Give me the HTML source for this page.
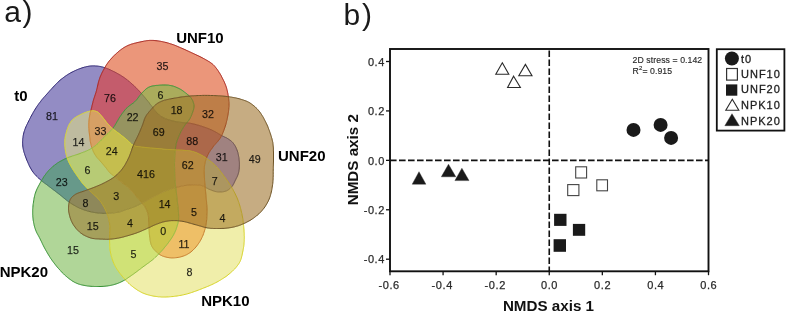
<!DOCTYPE html>
<html><head><meta charset="utf-8"><style>
html,body{margin:0;padding:0;background:#fff;}
body{width:787px;height:312px;overflow:hidden;}
svg{display:block;will-change:transform;}
text{font-family:"Liberation Sans",sans-serif;}
.n{font-size:10.7px;fill:#000;fill-opacity:0.82;text-anchor:middle;stroke:#000;stroke-opacity:0.6;stroke-width:0.25px;}
.L{font-size:15px;font-weight:bold;fill:#000;}
.t{font-size:11px;fill:#2a2a2a;letter-spacing:0.6px;stroke:#2a2a2a;stroke-width:0.25px;}
.s{font-size:8.7px;fill:#2a2a2a;letter-spacing:0.08px;stroke:#2a2a2a;stroke-width:0.15px;}
.g{font-size:11px;fill:#1e1e1e;letter-spacing:1px;stroke:#1e1e1e;stroke-width:0.3px;}
.ax{font-size:15.2px;font-weight:bold;fill:#111;}
.p{font-size:30px;fill:#1a1a1a;letter-spacing:1.7px;}
</style></head><body>
<svg width="787" height="312" viewBox="0 0 787 312">
<text x="4.2" y="21.7" class="p">a)</text>
<text x="343.5" y="25" class="p">b)</text>
<path d="M67.1,157.9 L66.5,155.6 L66.0,153.6 L65.2,149.2 L64.8,145.1 L64.8,140.8 L65.1,137.8 L66.0,133.6 L67.0,130.0 L68.3,126.3 L69.1,124.6 L69.7,123.5 L71.2,121.3 L72.2,120.2 L73.3,119.2 L75.2,117.6 L76.9,116.6 L79.4,115.2 L83.2,113.4 L85.3,112.5 L87.5,111.8 L88.8,111.4 L90.7,111.0 L93.5,100.0 L95.7,93.1 L96.5,90.6 L98.3,82.8 L99.3,79.5 L100.2,76.8 L101.6,73.6 L103.2,70.5 L104.7,67.7 L102.1,66.9 L99.5,66.4 L97.5,66.1 L94.8,65.9 L91.9,65.9 L89.6,66.1 L87.3,66.5 L85.3,67.0 L83.1,67.6 L79.8,68.7 L76.5,70.0 L74.3,71.0 L70.9,72.7 L68.7,74.0 L65.5,76.1 L63.3,77.7 L61.2,79.3 L58.9,81.3 L56.6,83.5 L54.4,85.8 L44.6,96.7 L42.1,99.5 L39.8,102.5 L36.8,106.7 L35.3,109.0 L33.2,112.5 L31.2,116.1 L28.8,120.9 L27.0,124.5 L25.9,126.9 L24.5,130.6 L23.8,133.0 L23.1,136.3 L22.7,139.5 L22.6,142.8 L22.8,146.0 L23.3,149.3 L24.1,152.5 L25.6,156.9 L27.8,162.4 L29.9,166.9 L31.7,170.1 L33.6,172.8 L35.7,175.2 L37.8,177.4 L41.5,180.7 L44.0,176.5 L46.5,173.1 L49.1,170.2 L51.8,167.5 L54.6,165.2 L57.8,162.9 L60.0,161.5 L62.2,160.3 L64.5,159.1Z" fill="#938cc4" stroke="#938cc4" stroke-width="0.6"/>
<path d="M228.0,94.5 L227.0,89.8 L225.9,85.9 L224.3,82.0 L221.7,76.8 L220.2,74.1 L219.0,72.2 L216.5,68.5 L214.2,65.7 L213.2,64.7 L212.0,63.7 L210.6,62.7 L208.4,61.3 L201.9,57.6 L197.2,55.3 L184.9,49.6 L177.3,46.3 L173.6,44.8 L168.6,43.2 L166.0,42.5 L163.4,41.9 L158.8,41.0 L154.2,40.5 L150.4,40.4 L147.6,40.6 L145.7,40.9 L142.9,41.4 L135.3,43.1 L131.5,44.1 L129.7,44.8 L127.9,45.5 L124.8,47.1 L121.9,49.0 L118.2,51.9 L114.9,54.8 L111.8,58.0 L109.1,61.1 L107.1,63.9 L104.7,67.7 L106.6,68.4 L109.1,69.4 L115.0,72.2 L119.8,74.9 L122.1,76.3 L124.7,78.0 L128.4,80.9 L132.1,84.0 L137.7,89.5 L141.5,93.5 L144.4,90.5 L145.9,89.1 L147.6,87.9 L149.6,86.9 L152.0,86.1 L155.6,85.5 L161.2,85.1 L165.0,85.0 L168.7,85.2 L171.3,85.7 L174.2,86.5 L177.7,87.9 L180.2,89.1 L182.5,90.6 L185.2,92.6 L187.8,94.7 L189.4,96.1 L194.6,95.7 L199.8,95.5 L204.3,95.4 L210.5,95.5 L216.1,95.7 L220.7,95.9 L225.1,96.3 L228.4,96.7Z" fill="#eb967a" stroke="#eb967a" stroke-width="0.6"/>
<path d="M245.3,222.9 L248.2,221.4 L250.1,220.4 L253.7,218.0 L256.4,216.0 L258.1,214.5 L259.7,213.0 L261.3,211.4 L262.7,209.7 L264.1,208.0 L265.4,206.1 L266.6,204.1 L267.7,202.1 L268.7,200.1 L270.0,196.8 L271.0,193.2 L271.8,189.6 L272.6,184.6 L273.0,180.3 L273.2,175.9 L273.5,157.0 L273.4,149.1 L273.2,146.1 L273.0,144.2 L272.8,142.4 L272.2,139.9 L271.0,135.7 L268.9,129.6 L267.9,126.8 L266.7,124.1 L263.8,118.4 L261.5,114.5 L259.7,111.8 L258.3,110.2 L257.0,108.7 L255.5,107.3 L254.0,105.9 L251.6,104.1 L249.2,102.5 L247.6,101.7 L246.0,101.0 L242.6,99.8 L238.1,98.5 L234.3,97.7 L228.4,96.7 L228.9,101.6 L229.0,105.7 L228.7,109.8 L227.9,115.1 L226.8,120.5 L225.3,126.0 L223.3,131.8 L221.6,135.6 L226.1,137.7 L227.5,138.5 L230.2,140.3 L231.5,141.3 L232.3,142.1 L234.0,144.1 L235.5,146.6 L236.7,149.3 L237.3,150.9 L237.9,152.7 L238.3,154.6 L238.9,157.6 L239.1,159.6 L239.4,162.5 L239.4,165.3 L239.3,167.2 L239.1,169.9 L238.8,171.7 L238.4,173.2 L238.0,174.5 L236.7,177.6 L233.4,184.3 L232.3,186.0 L231.4,187.1 L234.3,192.1 L236.2,196.0 L237.9,200.1 L239.2,203.7 L240.6,208.6 L241.8,213.5 L242.7,218.3 L243.4,223.8Z" fill="#c6ac82" stroke="#c6ac82" stroke-width="0.6"/>
<path d="M125.2,279.7 L127.9,282.5 L129.7,284.2 L133.3,287.2 L135.9,289.0 L137.6,290.2 L139.4,291.2 L141.2,292.2 L143.1,293.1 L145.2,293.9 L147.3,294.6 L149.5,295.2 L151.7,295.7 L155.1,296.3 L157.3,296.6 L160.5,296.9 L162.7,297.0 L165.9,297.0 L169.3,296.8 L173.2,296.5 L177.1,296.0 L179.8,295.5 L185.1,294.4 L190.4,292.9 L197.0,290.6 L206.4,286.9 L210.5,285.2 L213.1,284.0 L217.0,282.0 L221.6,279.3 L226.0,276.5 L229.0,274.1 L232.7,270.8 L234.5,269.1 L236.1,267.3 L238.3,264.4 L239.5,262.5 L240.0,261.6 L241.1,258.8 L241.9,255.8 L243.2,249.2 L243.7,246.7 L244.0,244.1 L244.2,239.5 L244.2,235.4 L244.0,230.1 L243.4,223.8 L239.5,225.3 L235.6,226.5 L231.7,227.4 L228.8,227.9 L226.9,228.1 L224.0,228.4 L221.1,228.5 L213.4,228.5 L209.5,228.2 L207.0,227.8 L205.4,227.5 L204.0,232.2 L202.5,236.3 L200.6,240.2 L199.2,242.6 L196.8,245.9 L194.0,249.1 L192.0,251.0 L191.0,251.9 L188.8,253.4 L187.7,254.1 L185.5,255.2 L184.3,255.7 L181.9,256.5 L178.1,257.4 L175.7,257.7 L173.3,257.9 L171.3,257.9 L169.2,257.7 L167.2,257.4 L165.3,256.9 L163.4,256.3 L161.7,255.6 L160.3,254.9 L158.8,253.9 L155.0,257.6 L152.8,259.6 L151.1,260.9 L143.1,266.8 L134.3,273.4 L128.2,277.7Z" fill="#f0eeaa" stroke="#f0eeaa" stroke-width="0.6"/>
<path d="M41.5,180.7 L38.1,186.8 L37.1,188.8 L36.2,190.9 L35.4,193.1 L34.4,196.8 L33.9,199.5 L33.5,202.1 L33.1,204.7 L32.8,208.5 L32.7,210.5 L32.7,213.5 L32.8,216.3 L33.1,219.1 L33.5,221.7 L34.0,224.3 L35.1,228.4 L36.2,231.4 L37.2,233.5 L39.8,238.3 L44.1,247.1 L46.0,250.6 L49.1,255.8 L51.9,260.0 L55.4,264.7 L59.2,269.2 L62.5,272.9 L65.4,275.6 L69.1,278.7 L71.4,280.3 L73.0,281.4 L75.5,282.7 L77.1,283.4 L78.8,284.1 L82.2,285.0 L85.8,285.7 L88.8,286.1 L91.0,286.3 L96.7,286.5 L100.0,286.5 L103.0,286.4 L107.8,285.9 L110.6,285.4 L112.4,285.0 L115.1,284.2 L116.8,283.7 L119.4,282.7 L121.1,281.9 L122.9,281.0 L125.2,279.7 L123.6,277.9 L121.3,275.1 L119.1,272.2 L117.7,270.3 L116.4,268.3 L115.3,266.3 L114.2,264.2 L113.3,262.1 L112.5,259.9 L111.4,256.5 L110.9,254.3 L110.2,251.0 L109.9,249.1 L109.7,246.5 L109.6,239.2 L106.4,239.3 L103.2,239.2 L95.4,238.8 L92.3,238.4 L89.9,237.7 L88.2,237.1 L86.4,236.3 L84.6,235.4 L82.9,234.5 L80.5,232.8 L79.0,231.5 L77.6,230.1 L76.2,228.6 L75.0,227.0 L73.3,224.6 L72.4,223.0 L71.6,221.4 L70.9,219.7 L70.0,217.2 L69.4,214.8 L68.8,212.2 L68.5,209.9 L68.5,208.2 L68.6,206.3 L68.8,204.3 L69.3,202.2 L65.8,199.6 L60.7,195.4 L57.8,193.1 L46.5,184.5 L43.1,182.0Z" fill="#b0d698" stroke="#b0d698" stroke-width="0.6"/>
<path d="M141.5,93.5 L137.3,89.1 L132.1,84.0 L127.9,80.5 L124.1,77.6 L119.8,74.9 L115.0,72.2 L109.1,69.4 L106.6,68.4 L104.7,67.7 L103.2,70.5 L101.6,73.6 L100.2,76.8 L99.3,79.5 L98.3,82.8 L96.5,90.6 L95.7,93.1 L93.5,100.0 L90.7,111.0 L92.8,110.7 L93.6,110.8 L94.7,110.9 L95.7,111.2 L96.7,111.6 L97.7,112.1 L98.6,112.8 L99.7,113.8 L101.9,116.4 L106.2,121.9 L107.8,123.8 L110.5,126.8 L112.6,128.7 L114.3,126.3 L120.2,116.5 L122.1,113.7 L124.1,111.0 L125.8,109.0 L127.6,107.2 L128.9,106.1 L133.8,102.6 L135.8,100.7 L137.0,99.3Z" fill="#c45c6c" stroke="#c45c6c" stroke-width="0.6"/>
<path d="M92.0,148.1 L90.8,143.8 L90.2,140.7 L89.2,132.1 L88.8,126.4 L88.9,122.4 L89.2,118.8 L89.9,114.6 L90.7,111.0 L88.3,111.5 L85.7,112.3 L82.7,113.5 L79.4,115.2 L76.4,116.8 L74.4,118.2 L72.5,119.8 L70.9,121.7 L69.7,123.5 L68.6,125.7 L67.4,128.8 L66.4,132.1 L65.5,135.8 L65.0,138.5 L64.8,140.8 L64.8,144.0 L65.0,147.4 L65.5,151.0 L66.3,155.0 L67.1,157.9 L70.0,156.9 L79.0,153.9 L85.9,151.2 L88.2,150.2 L90.6,148.9Z" fill="#bebb9f" stroke="#bebb9f" stroke-width="0.6"/>
<path d="M43.1,182.0 L46.5,184.5 L57.2,192.7 L60.7,195.4 L66.6,200.2 L69.3,202.2 L69.9,200.2 L70.5,199.0 L71.1,198.1 L71.8,197.2 L72.6,196.5 L73.5,195.7 L74.9,194.7 L76.8,193.6 L78.5,192.9 L84.7,190.8 L88.4,189.5 L85.1,186.2 L82.4,183.1 L79.9,179.7 L74.9,172.6 L72.5,168.8 L69.9,164.3 L68.4,161.2 L67.1,157.9 L64.5,159.1 L62.2,160.3 L60.0,161.5 L57.8,162.9 L55.6,164.4 L54.0,165.6 L51.8,167.5 L50.2,169.0 L47.5,171.9 L45.5,174.5 L43.6,177.2 L41.5,180.7Z" fill="#67998a" stroke="#67998a" stroke-width="0.6"/>
<path d="M231.4,187.1 L232.7,185.5 L233.7,183.7 L236.7,177.6 L237.8,175.1 L238.6,172.5 L238.9,170.8 L239.2,169.1 L239.3,167.2 L239.4,164.4 L239.3,161.6 L239.1,159.6 L238.5,155.6 L237.6,151.8 L237.0,150.0 L236.4,148.6 L235.5,146.6 L234.7,145.3 L233.5,143.5 L232.7,142.5 L231.9,141.7 L230.7,140.6 L228.0,138.8 L226.1,137.7 L221.6,135.6 L220.3,138.0 L219.3,139.5 L218.2,140.8 L214.2,145.3 L210.1,150.9 L208.8,153.0 L208.0,154.5 L207.0,156.6 L206.4,158.2 L209.5,160.5 L212.4,162.8 L215.0,165.3 L217.5,167.8 L220.6,171.6 L225.5,178.2 L229.0,183.2Z" fill="#a08280" stroke="#a08280" stroke-width="0.6"/>
<path d="M189.4,96.1 L184.6,92.2 L182.5,90.6 L180.2,89.1 L177.7,87.9 L174.9,86.7 L172.0,85.8 L170.5,85.5 L168.7,85.2 L165.9,85.0 L162.1,85.0 L156.6,85.4 L152.9,85.9 L150.3,86.6 L148.2,87.5 L146.5,88.6 L144.4,90.5 L141.5,93.5 L144.5,97.1 L148.0,101.4 L152.7,107.7 L155.2,105.2 L156.3,104.2 L157.4,103.4 L158.4,102.8 L160.0,102.0 L161.7,101.2 L163.8,100.4 L167.0,99.6 L177.6,97.6 L183.5,96.7Z" fill="#aaac5c" stroke="#aaac5c" stroke-width="0.6"/>
<path d="M222.5,133.7 L224.3,128.9 L226.0,123.8 L227.3,118.3 L228.2,113.2 L228.8,109.0 L229.0,104.8 L228.8,100.8 L228.4,96.7 L225.1,96.3 L220.7,95.9 L216.1,95.7 L210.5,95.5 L204.3,95.4 L199.8,95.5 L194.6,95.7 L189.4,96.1 L190.7,97.5 L191.5,98.5 L192.5,100.2 L193.0,101.5 L193.6,103.4 L193.9,104.7 L194.0,106.0 L193.9,107.3 L193.7,108.7 L193.2,110.7 L192.0,114.0 L191.1,116.1 L190.1,118.1 L189.0,120.0 L188.0,121.4 L186.7,122.9 L190.3,123.3 L195.0,124.3 L199.6,125.6 L205.3,127.5 L210.1,129.4 L213.7,131.0 L215.8,132.1 L221.6,135.6Z" fill="#be7e48" stroke="#be7e48" stroke-width="0.6"/>
<path d="M158.8,253.9 L160.3,254.9 L161.7,255.6 L163.4,256.3 L165.3,256.9 L167.2,257.4 L169.2,257.7 L172.3,257.9 L174.5,257.8 L176.9,257.6 L180.6,256.9 L183.1,256.1 L184.3,255.7 L186.6,254.7 L187.7,254.1 L188.8,253.4 L191.0,251.9 L192.0,251.0 L194.0,249.1 L196.8,245.9 L199.2,242.6 L200.6,240.2 L202.5,236.3 L204.0,232.2 L205.4,227.5 L186.6,222.2 L183.0,221.4 L181.0,221.1 L178.4,220.8 L177.7,224.1 L176.3,228.6 L174.8,232.3 L173.9,234.1 L172.9,236.0 L170.8,239.2 L167.0,244.4 L163.2,249.1Z" fill="#eebf67" stroke="#eebf67" stroke-width="0.6"/>
<path d="M109.6,239.2 L109.7,246.5 L109.9,249.1 L110.2,251.0 L110.9,254.3 L111.4,256.5 L112.5,259.9 L113.3,262.1 L114.2,264.2 L115.3,266.3 L116.4,268.3 L117.7,270.3 L119.1,272.2 L121.3,275.1 L123.6,277.9 L125.2,279.7 L128.2,277.7 L134.3,273.4 L143.1,266.8 L151.1,260.9 L152.8,259.6 L155.0,257.6 L158.8,253.9 L156.5,252.0 L155.0,250.5 L153.8,249.2 L152.9,248.0 L152.2,246.8 L151.5,245.5 L151.1,244.4 L150.7,243.2 L150.3,241.2 L149.6,236.1 L149.3,233.4 L149.0,227.6 L142.6,230.5 L139.3,231.9 L136.1,233.1 L132.0,234.4 L124.8,236.5 L120.0,237.7 L114.4,238.7Z" fill="#d0e276" stroke="#d0e276" stroke-width="0.6"/>
<path d="M68.5,209.3 L68.8,212.2 L69.8,216.4 L70.9,219.7 L71.6,221.4 L72.4,223.0 L73.3,224.6 L74.4,226.2 L76.2,228.6 L77.6,230.1 L79.0,231.5 L81.3,233.4 L83.7,235.0 L86.4,236.3 L88.2,237.1 L89.9,237.7 L92.3,238.4 L95.4,238.8 L103.2,239.2 L106.4,239.3 L109.6,239.2 L109.8,229.1 L109.8,226.4 L109.6,224.0 L109.2,221.5 L108.8,219.3 L108.0,216.4 L106.9,213.3 L104.2,213.3 L100.5,213.2 L95.7,212.7 L91.1,211.9 L86.8,210.7 L82.5,209.3 L78.5,207.6 L74.6,205.5 L71.7,203.8 L69.3,202.2 L68.9,203.5 L68.6,205.7 L68.5,207.6Z" fill="#a5a05c" stroke="#a5a05c" stroke-width="0.6"/>
<path d="M207.0,227.8 L210.3,228.3 L214.1,228.5 L222.0,228.4 L226.9,228.1 L228.8,227.9 L231.7,227.4 L235.6,226.5 L239.5,225.3 L243.4,223.8 L242.7,218.3 L241.8,213.5 L240.6,208.6 L239.2,203.7 L237.9,200.1 L236.2,196.0 L234.3,192.1 L231.4,187.1 L230.3,188.2 L229.0,189.3 L227.6,190.3 L226.5,190.8 L224.7,191.4 L223.3,191.7 L221.8,191.9 L219.5,191.9 L218.0,191.9 L216.6,191.7 L215.1,191.4 L213.6,190.9 L211.4,190.1 L208.2,188.8 L205.2,187.0 L206.8,205.1 L207.0,209.0 L206.9,215.4 L206.7,219.7 L206.1,223.9 L205.4,227.5Z" fill="#c3aa60" stroke="#c3aa60" stroke-width="0.6"/>
<path d="M112.6,128.7 L110.2,126.4 L107.8,123.8 L106.2,121.9 L101.9,116.4 L99.7,113.8 L98.6,112.8 L97.7,112.1 L96.7,111.6 L95.7,111.2 L94.7,110.9 L93.6,110.8 L92.8,110.7 L90.7,111.0 L89.7,115.3 L89.1,119.5 L88.8,123.1 L88.8,127.3 L89.3,133.0 L90.2,140.7 L90.6,143.1 L91.0,144.6 L92.0,148.1 L95.0,146.0 L96.2,145.0 L97.8,143.5 L106.7,134.6 L111.2,130.3Z" fill="#d6a064" stroke="#d6a064" stroke-width="0.6"/>
<path d="M152.7,107.7 L147.5,100.7 L144.5,97.1 L141.5,93.5 L137.0,99.3 L135.1,101.4 L133.1,103.1 L129.6,105.6 L127.6,107.2 L125.8,109.0 L124.1,111.0 L122.1,113.7 L120.2,116.5 L114.3,126.3 L112.6,128.7 L114.6,130.3 L119.0,133.5 L124.4,137.8 L127.6,140.4 L131.2,143.9 L132.3,144.8 L133.3,145.4 L134.7,142.4 L137.9,135.9 L139.8,131.7 L142.5,125.0 L144.4,119.3 L145.3,117.3 L146.3,115.5 L147.8,113.4 L149.5,111.3Z" fill="#969460" stroke="#969460" stroke-width="0.6"/>
<path d="M114.7,176.6 L111.6,174.4 L109.8,172.6 L107.9,170.3 L103.0,164.2 L98.1,158.7 L96.7,157.1 L95.5,155.4 L94.2,153.1 L93.1,150.8 L92.0,148.1 L88.9,149.9 L86.7,150.9 L84.3,151.9 L79.0,153.9 L70.0,156.9 L67.1,157.9 L68.4,161.2 L69.9,164.3 L72.5,168.8 L74.9,172.6 L79.9,179.7 L82.4,183.1 L85.1,186.2 L88.4,189.5 L92.7,187.9 L96.6,186.3 L100.6,184.6 L103.8,183.1 L107.9,181.0 L111.1,179.1 L112.7,178.1Z" fill="#b7cb75" stroke="#b7cb75" stroke-width="0.6"/>
<path d="M206.4,158.2 L207.7,155.2 L208.4,153.8 L209.2,152.3 L210.6,150.2 L214.2,145.3 L218.2,140.8 L219.3,139.5 L220.3,138.0 L221.6,135.6 L215.8,132.1 L213.7,131.0 L210.1,129.4 L205.3,127.5 L199.6,125.6 L195.0,124.3 L190.3,123.3 L186.7,122.9 L185.3,124.5 L184.6,125.5 L182.4,129.1 L180.3,133.0 L178.4,137.3 L177.0,140.9 L176.2,143.7 L175.7,146.3 L175.3,149.9 L183.9,150.3 L189.4,150.8 L192.1,151.3 L193.5,151.7 L195.3,152.3 L199.1,154.0 L202.9,156.0Z" fill="#ac684a" stroke="#ac684a" stroke-width="0.6"/>
<path d="M205.2,187.0 L207.7,188.5 L208.7,189.0 L212.1,190.4 L214.3,191.2 L215.8,191.6 L217.3,191.8 L220.3,191.9 L222.5,191.8 L224.0,191.6 L225.4,191.2 L226.5,190.8 L227.6,190.3 L229.0,189.3 L230.3,188.2 L231.4,187.1 L229.0,183.2 L226.1,179.0 L221.4,172.5 L218.3,168.7 L215.9,166.1 L213.3,163.6 L209.5,160.5 L206.4,158.2 L205.3,161.5 L204.7,164.5 L204.4,167.4 L204.2,171.2 L204.2,174.0 L204.3,176.1Z" fill="#ac9660" stroke="#ac9660" stroke-width="0.6"/>
<path d="M72.6,204.4 L76.5,206.6 L80.5,208.5 L84.6,210.1 L88.9,211.3 L93.3,212.3 L96.9,212.8 L101.8,213.2 L106.9,213.3 L105.6,210.3 L104.0,207.0 L101.9,203.6 L99.5,200.3 L97.9,198.4 L96.7,197.2 L91.6,192.6 L88.4,189.5 L84.7,190.8 L79.4,192.6 L76.8,193.6 L75.4,194.4 L74.4,195.1 L73.0,196.1 L72.2,196.8 L71.1,198.1 L70.5,199.0 L69.9,200.2 L69.3,202.2Z" fill="#8e885a" stroke="#8e885a" stroke-width="0.6"/>
<path d="M186.7,122.9 L188.3,120.9 L189.0,120.0 L190.1,118.1 L191.1,116.1 L192.0,114.0 L193.2,110.7 L193.7,108.7 L193.9,107.3 L194.0,106.0 L193.9,104.7 L193.6,103.4 L193.0,101.5 L192.5,100.2 L191.5,98.5 L190.7,97.5 L189.4,96.1 L183.5,96.7 L177.6,97.6 L167.6,99.5 L164.4,100.2 L162.7,100.8 L160.6,101.7 L157.9,103.1 L156.9,103.8 L155.8,104.7 L154.1,106.3 L152.7,107.7 L156.2,112.1 L158.0,114.0 L159.6,115.3 L161.3,116.5 L163.8,117.9 L165.6,118.8 L168.3,119.7 L171.0,120.5 L174.7,121.4 L178.1,122.0 L181.7,122.5Z" fill="#a48c3e" stroke="#a48c3e" stroke-width="0.6"/>
<path d="M178.4,220.8 L181.0,221.1 L183.0,221.4 L186.6,222.2 L205.4,227.5 L206.1,223.9 L206.7,219.7 L206.9,215.4 L207.0,209.0 L206.8,205.1 L205.2,187.0 L204.0,186.4 L203.0,186.0 L200.4,185.3 L198.8,185.0 L197.1,184.8 L193.8,184.8 L188.9,185.0 L184.1,185.6 L180.0,186.5 L175.8,187.6 L178.2,209.2 L178.6,215.9 L178.6,218.4Z" fill="#be9140" stroke="#be9140" stroke-width="0.6"/>
<path d="M149.0,227.6 L149.3,233.4 L149.6,236.1 L150.3,241.2 L150.7,243.2 L151.1,244.4 L151.5,245.5 L152.2,246.8 L152.9,248.0 L153.8,249.2 L155.0,250.5 L156.5,252.0 L158.8,253.9 L162.7,249.7 L166.5,245.1 L170.4,239.9 L171.7,237.9 L172.9,236.0 L173.9,234.1 L174.8,232.3 L176.3,228.6 L177.7,224.1 L178.4,220.8 L174.4,220.6 L170.6,220.7 L167.3,221.1 L164.1,221.7 L160.7,222.7 L156.1,224.4 L152.1,226.1Z" fill="#ccc64c" stroke="#ccc64c" stroke-width="0.6"/>
<path d="M112.0,239.0 L116.0,238.5 L120.8,237.6 L124.8,236.5 L131.2,234.7 L135.3,233.4 L139.3,231.9 L142.6,230.5 L149.0,227.6 L148.5,217.2 L148.3,215.4 L147.8,213.2 L146.9,210.7 L146.4,209.5 L145.5,207.8 L144.8,206.6 L144.1,205.5 L142.0,203.1 L137.4,205.4 L134.2,206.8 L131.6,207.8 L120.1,211.7 L117.3,212.3 L113.7,212.9 L110.7,213.2 L106.9,213.3 L108.0,216.4 L108.8,219.3 L109.2,221.5 L109.6,224.0 L109.8,226.4 L109.8,229.1 L109.6,239.2Z" fill="#b2a446" stroke="#b2a446" stroke-width="0.6"/>
<path d="M132.9,145.2 L131.2,143.9 L127.6,140.4 L125.0,138.3 L119.0,133.5 L114.6,130.3 L112.6,128.7 L110.7,130.8 L106.7,134.6 L97.0,144.2 L95.0,146.0 L92.0,148.1 L93.1,150.8 L94.2,153.1 L95.5,155.4 L96.7,157.1 L98.1,158.7 L103.0,164.2 L107.9,170.3 L109.8,172.6 L111.6,174.4 L114.7,176.6 L117.7,173.9 L119.7,171.9 L121.0,170.5 L122.2,169.0 L123.4,167.3 L125.7,163.6 L128.2,158.8 L129.2,156.8 L130.0,154.6 L132.3,148.1 L133.3,145.4Z" fill="#c5be4e" stroke="#c5be4e" stroke-width="0.6"/>
<path d="M175.3,149.9 L175.8,145.6 L176.4,143.0 L177.3,140.2 L178.7,136.6 L180.7,132.2 L182.8,128.3 L185.0,125.0 L186.7,122.9 L180.8,122.4 L175.3,121.5 L172.3,120.8 L169.0,119.9 L166.9,119.3 L165.0,118.5 L163.1,117.6 L161.3,116.5 L159.6,115.3 L158.0,114.0 L156.2,112.1 L152.7,107.7 L149.5,111.3 L147.8,113.4 L146.3,115.5 L145.3,117.3 L144.4,119.3 L142.5,125.0 L139.8,131.7 L137.9,135.9 L134.7,142.4 L133.3,145.4 L135.0,146.1 L137.6,146.6 L147.1,147.7 L170.0,149.6Z" fill="#9a7d39" stroke="#9a7d39" stroke-width="0.6"/>
<path d="M175.8,187.6 L180.0,186.5 L184.1,185.6 L188.9,185.0 L193.8,184.8 L197.1,184.8 L198.8,185.0 L200.4,185.3 L203.0,186.0 L204.0,186.4 L205.2,187.0 L204.3,175.1 L204.2,172.0 L204.3,168.9 L204.5,165.9 L204.9,163.7 L205.5,160.8 L206.4,158.2 L202.9,156.0 L199.1,154.0 L196.2,152.7 L194.4,152.0 L192.8,151.5 L190.0,150.9 L185.0,150.4 L181.5,150.1 L175.3,149.9 L174.9,153.9 L174.7,158.5 L174.5,162.5 L174.6,167.5 L174.7,174.2 L174.9,179.2 L175.3,183.0Z" fill="#b88c42" stroke="#b88c42" stroke-width="0.6"/>
<path d="M109.7,213.2 L112.7,213.0 L115.6,212.6 L118.2,212.2 L120.6,211.6 L125.0,210.0 L131.6,207.8 L134.2,206.8 L137.4,205.4 L142.0,203.1 L140.0,200.8 L134.1,193.7 L132.0,191.4 L129.4,188.7 L125.6,185.3 L114.7,176.6 L112.7,178.1 L110.3,179.6 L107.1,181.4 L103.0,183.5 L99.8,185.0 L95.0,187.0 L88.4,189.5 L91.6,192.6 L96.7,197.2 L97.9,198.4 L99.5,200.3 L101.9,203.6 L104.0,207.0 L105.6,210.3 L106.9,213.3Z" fill="#a49642" stroke="#a49642" stroke-width="0.6"/>
<path d="M142.0,203.1 L144.1,205.5 L144.8,206.6 L145.5,207.8 L146.4,209.5 L146.9,210.7 L147.8,213.2 L148.3,215.4 L148.5,217.2 L149.0,227.6 L154.1,225.2 L156.8,224.1 L160.7,222.7 L164.1,221.7 L167.3,221.1 L170.6,220.7 L174.4,220.6 L178.4,220.8 L178.6,219.2 L178.7,216.8 L178.6,214.2 L178.2,209.2 L175.8,187.6 L171.2,188.9 L167.3,190.2 L163.5,191.7 L160.8,192.9 L157.4,194.6 L152.4,197.2 L145.7,201.1Z" fill="#ac9834" stroke="#ac9834" stroke-width="0.6"/>
<path d="M145.0,201.5 L153.2,196.8 L158.2,194.2 L161.7,192.5 L164.4,191.3 L168.3,189.9 L172.1,188.6 L175.8,187.6 L175.2,182.3 L174.9,179.2 L174.7,174.2 L174.6,167.5 L174.5,162.5 L174.7,158.5 L174.9,153.9 L175.3,149.9 L171.2,149.7 L166.7,149.4 L146.1,147.5 L138.5,146.7 L136.7,146.5 L135.0,146.1 L133.3,145.4 L132.3,148.1 L130.4,153.6 L129.2,156.8 L127.3,160.8 L125.2,164.6 L122.8,168.2 L120.4,171.2 L117.7,173.9 L114.7,176.6 L125.6,185.3 L129.4,188.7 L132.0,191.4 L134.1,193.7 L140.0,200.8 L142.0,203.1Z" fill="#a48e34" stroke="#a48e34" stroke-width="0.6"/>
<path d="M41.3,180.6 L40.7,180.0 L40.0,179.4 L39.3,178.8 L38.6,178.1 L37.8,177.4 L37.1,176.7 L36.4,176.0 L35.7,175.2 L35.0,174.5 L34.3,173.7 L33.6,172.8 L33.0,172.0 L32.3,171.0 L31.7,170.1 L31.1,169.0 L30.5,168.0 L29.9,166.9 L29.3,165.8 L28.8,164.6 L28.3,163.5 L27.8,162.4 L27.3,161.2 L26.8,160.1 L26.4,159.0 L26.0,157.9 L25.6,156.9 L25.2,155.8 L24.8,154.7 L24.5,153.6 L24.1,152.5 L23.8,151.5 L23.6,150.4 L23.3,149.3 L23.1,148.2 L22.9,147.1 L22.8,146.0 L22.7,144.9 L22.7,143.8 L22.6,142.8 L22.6,141.7 L22.7,140.6 L22.7,139.5 L22.8,138.4 L23.0,137.4 L23.1,136.3 L23.3,135.2 L23.5,134.1 L23.8,133.0 L24.1,131.8 L24.5,130.6 L24.9,129.4 L25.4,128.2 L25.9,126.9 L26.4,125.7 L27.0,124.5 L27.6,123.3 L28.2,122.1 L28.8,120.9 L29.4,119.7 L30.0,118.5 L30.6,117.3 L31.2,116.1 L31.9,114.9 L32.6,113.7 L33.2,112.5 L33.9,111.3 L34.6,110.2 L35.3,109.0 L36.1,107.8 L36.8,106.7 L37.5,105.6 L38.3,104.5 L39.0,103.5 L39.8,102.5 L40.6,101.5 L41.3,100.5 L42.1,99.5 L42.9,98.6 L43.7,97.6 L44.6,96.7 L45.4,95.7 L46.2,94.8 L47.1,93.8 L48.0,92.8 L49.0,91.7 L50.0,90.5 L51.1,89.4 L52.2,88.2 L53.3,87.0 L54.4,85.8 L55.5,84.6 L56.6,83.5 L57.7,82.4 L58.9,81.3 L60.0,80.3 L61.2,79.3 L62.3,78.5 L63.3,77.7 L64.4,76.9 L65.5,76.1 L66.5,75.4 L67.6,74.7 L68.7,74.0 L69.8,73.4 L70.9,72.7 L72.1,72.1 L73.2,71.6 L74.3,71.0 L75.4,70.5 L76.5,70.0 L77.6,69.5 L78.7,69.1 L79.8,68.7 L80.9,68.3 L82.0,67.9 L83.1,67.6 L84.2,67.2 L85.3,67.0 L86.3,66.7 L87.3,66.5 L88.1,66.4 L88.9,66.2 L89.6,66.1 L90.4,66.0 L91.1,66.0 L91.9,65.9 L92.6,65.9 L93.3,65.9 L94.0,65.9 L94.8,65.9 L95.5,66.0 L96.2,66.0 L96.9,66.1 L97.5,66.1 L98.2,66.2 L98.8,66.3 L99.5,66.4 L100.1,66.5 L100.8,66.6 L101.4,66.8 L102.1,66.9 L102.7,67.1 L103.4,67.3 L104.1,67.5 L104.9,67.8" fill="none" stroke="#302873" stroke-width="1.0"/>
<path d="M104.9,67.8 L105.7,68.0 L106.6,68.4 L107.4,68.7 L108.3,69.0 L109.1,69.4 L110.0,69.8 L110.9,70.2 L111.7,70.6 L112.5,71.0 L113.4,71.4 L114.2,71.8 L115.0,72.2 L115.8,72.6 L116.6,73.1 L117.4,73.5 L118.2,74.0 L119.0,74.4 L119.8,74.9 L120.6,75.3 L121.3,75.8 L122.1,76.3 L122.8,76.7 L123.5,77.2 L124.1,77.6 L124.7,78.0 L125.2,78.4 L125.8,78.8 L126.3,79.2 L126.9,79.6 L127.4,80.1 L127.9,80.5 L128.4,80.9 L129.0,81.3 L129.5,81.8 L130.0,82.2 L130.5,82.6 L131.0,83.1 L131.6,83.6 L132.1,84.0 L132.6,84.5 L133.1,85.0 L133.6,85.4 L134.1,85.9 L134.6,86.4 L135.0,86.9 L135.5,87.3 L136.0,87.8 L136.4,88.2 L136.9,88.7 L137.3,89.1 L137.7,89.5 L138.1,89.9 L138.5,90.3 L138.9,90.7 L139.3,91.2 L139.7,91.6 L140.1,92.0 L140.6,92.5 L141.0,93.0 L141.6,93.6" fill="none" stroke="#993842" stroke-width="1.0"/>
<path d="M141.6,93.6 L142.1,94.3 L142.7,95.0 L143.3,95.7 L143.9,96.4 L144.5,97.1 L145.1,97.9 L145.7,98.6 L146.3,99.3 L146.9,100.0 L147.5,100.7 L148.0,101.4 L148.5,102.0 L148.9,102.5 L149.3,103.1 L149.7,103.7 L150.1,104.2 L150.6,104.8 L151.0,105.3 L151.4,105.9 L151.8,106.4 L152.2,106.9 L152.6,107.5" fill="none" stroke="#7e7b40" stroke-width="1.0"/>
<path d="M152.6,107.5 L153.0,108.0 L153.4,108.5 L153.8,109.0 L154.2,109.6 L154.6,110.1 L155.0,110.6 L155.4,111.1 L155.8,111.6 L156.2,112.1 L156.6,112.6 L157.1,113.1 L157.5,113.6 L158.0,114.0 L158.5,114.4 L159.0,114.9 L159.6,115.3 L160.2,115.7 L160.7,116.1 L161.3,116.5 L161.9,116.9 L162.5,117.2 L163.1,117.6 L163.8,117.9 L164.4,118.2 L165.0,118.5 L165.6,118.8 L166.3,119.0 L166.9,119.3 L167.6,119.5 L168.3,119.7 L169.0,119.9 L169.6,120.1 L170.3,120.3 L171.0,120.5 L171.7,120.7 L172.3,120.8 L173.0,121.0 L173.6,121.1 L174.2,121.3 L174.7,121.4 L175.3,121.5 L175.9,121.6 L176.4,121.7 L177.0,121.8 L177.6,121.9 L178.1,122.0 L178.7,122.1 L179.4,122.2 L180.0,122.3 L180.8,122.4 L181.7,122.5 L182.6,122.6 L183.5,122.7 L184.5,122.7 L185.4,122.8 L186.4,122.9" fill="none" stroke="#8d7531" stroke-width="1.0"/>
<path d="M186.4,122.9 L187.4,123.0 L188.3,123.1 L189.3,123.2 L190.3,123.3 L191.2,123.5 L192.1,123.7 L193.1,123.9 L194.0,124.1 L195.0,124.3 L195.9,124.6 L196.8,124.8 L197.8,125.1 L198.7,125.3 L199.6,125.6 L200.5,125.9 L201.5,126.2 L202.4,126.5 L203.4,126.8 L204.3,127.2 L205.3,127.5 L206.3,127.9 L207.2,128.2 L208.2,128.6 L209.2,129.0 L210.1,129.4 L211.0,129.8 L212.0,130.2 L212.8,130.6 L213.7,131.0 L214.4,131.4 L215.1,131.7 L215.8,132.1 L216.5,132.5 L217.1,132.9 L217.8,133.3 L218.4,133.7 L219.0,134.1 L219.7,134.4 L220.3,134.8 L220.9,135.2 L221.5,135.5" fill="none" stroke="#995632" stroke-width="1.0"/>
<path d="M221.5,135.5 L222.0,135.8 L222.5,136.0 L223.1,136.3 L223.6,136.5 L224.1,136.8 L224.6,137.0 L225.1,137.2 L225.6,137.5 L226.1,137.7 L226.6,137.9 L227.0,138.2 L227.5,138.5 L228.0,138.8 L228.4,139.1 L228.9,139.4 L229.3,139.7 L229.8,140.0 L230.2,140.3 L230.7,140.6 L231.1,141.0 L231.5,141.3 L231.9,141.7 L232.3,142.1 L232.7,142.5 L233.1,143.0 L233.5,143.5 L234.0,144.1 L234.3,144.7 L234.7,145.3 L235.1,145.9 L235.5,146.6 L235.8,147.2 L236.1,147.9 L236.4,148.6 L236.7,149.3 L237.0,150.0 L237.3,150.9 L237.6,151.8 L237.9,152.7 L238.1,153.7 L238.3,154.6 L238.5,155.6 L238.7,156.6 L238.9,157.6 L239.0,158.6 L239.1,159.6 L239.2,160.6 L239.3,161.6 L239.4,162.5 L239.4,163.5 L239.4,164.4 L239.4,165.3 L239.4,166.3 L239.3,167.2 L239.3,168.1 L239.2,169.1 L239.1,169.9 L238.9,170.8 L238.8,171.7 L238.6,172.5 L238.4,173.2 L238.2,173.9 L238.0,174.5 L237.8,175.1 L237.5,175.8 L237.3,176.4 L237.0,177.0 L236.7,177.6 L236.4,178.2 L236.1,178.8 L235.8,179.4 L235.5,180.0 L235.2,180.6 L234.9,181.2 L234.6,181.8 L234.3,182.5 L234.0,183.1 L233.7,183.7 L233.4,184.3 L233.0,184.9 L232.7,185.5 L232.3,186.0 L231.9,186.5 L231.5,187.0" fill="none" stroke="#694f49" stroke-width="1.0"/>
<path d="M231.5,187.0 L231.1,187.4 L230.7,187.8 L230.3,188.2 L229.9,188.6 L229.4,189.0 L229.0,189.3 L228.5,189.7 L228.0,190.0 L227.6,190.3 L227.1,190.5 L226.5,190.8 L226.0,191.0 L225.4,191.2 L224.7,191.4 L224.0,191.6 L223.3,191.7 L222.5,191.8 L221.8,191.9 L221.0,191.9 L220.3,191.9 L219.5,191.9 L218.8,191.9 L218.0,191.9 L217.3,191.8 L216.6,191.7 L215.8,191.6 L215.1,191.4 L214.3,191.2 L213.6,190.9 L212.9,190.7 L212.1,190.4 L211.4,190.1 L210.7,189.8 L210.0,189.6 L209.3,189.3 L208.7,189.0 L208.2,188.8 L207.7,188.5 L207.2,188.2 L206.7,188.0 L206.3,187.7 L205.8,187.4 L205.4,187.2" fill="none" stroke="#937940" stroke-width="1.0"/>
<path d="M205.4,187.2 L204.9,186.9 L204.4,186.6 L204.0,186.4 L203.5,186.2 L203.0,186.0 L202.5,185.8 L202.0,185.7 L201.5,185.5 L201.0,185.4 L200.4,185.3 L199.9,185.2 L199.4,185.1 L198.8,185.0 L198.3,185.0 L197.7,184.9 L197.1,184.8 L196.5,184.8 L195.7,184.8 L194.8,184.7 L193.8,184.8 L192.9,184.8 L191.9,184.8 L190.9,184.9 L189.9,184.9 L188.9,185.0 L187.9,185.1 L186.9,185.2 L185.9,185.4 L185.0,185.5 L184.1,185.6 L183.3,185.8 L182.5,185.9 L181.6,186.1 L180.8,186.3 L180.0,186.5 L179.2,186.7 L178.3,186.9 L177.5,187.1 L176.7,187.3 L175.8,187.6" fill="none" stroke="#ac7d34" stroke-width="1.0"/>
<path d="M175.8,187.6 L175.0,187.8 L174.1,188.1 L173.1,188.3 L172.1,188.6 L171.2,188.9 L170.2,189.3 L169.2,189.6 L168.3,189.9 L167.3,190.2 L166.3,190.6 L165.4,191.0 L164.4,191.3 L163.5,191.7 L162.6,192.1 L161.7,192.5 L160.8,192.9 L160.0,193.3 L159.1,193.7 L158.2,194.2 L157.4,194.6 L156.5,195.0 L155.7,195.5 L154.9,195.9 L154.0,196.4 L153.2,196.8 L152.4,197.2 L151.7,197.6 L150.9,198.1 L150.2,198.5 L149.4,198.9 L148.7,199.4 L147.9,199.8 L147.2,200.2 L146.4,200.7 L145.7,201.1 L145.0,201.5 L144.2,201.9 L143.4,202.3 L142.7,202.7 L141.9,203.1" fill="none" stroke="#a58d34" stroke-width="1.0"/>
<path d="M141.9,203.1 L141.2,203.5 L140.4,203.9 L139.7,204.3 L138.9,204.7 L138.1,205.1 L137.4,205.4 L136.6,205.8 L135.8,206.2 L135.0,206.5 L134.2,206.8 L133.3,207.2 L132.5,207.5 L131.6,207.8 L130.8,208.1 L129.9,208.4 L129.0,208.7 L128.2,209.0 L127.3,209.2 L126.5,209.5 L125.7,209.7 L125.0,210.0 L124.5,210.2 L123.9,210.4 L123.4,210.6 L123.0,210.7 L122.5,210.9 L122.0,211.1 L121.6,211.3 L121.1,211.4 L120.6,211.6 L120.1,211.7 L119.6,211.9 L119.0,212.0 L118.2,212.2 L117.3,212.3 L116.5,212.5 L115.6,212.6 L114.6,212.8 L113.7,212.9 L112.7,213.0 L111.7,213.1 L110.7,213.2 L109.7,213.2 L108.7,213.3 L107.7,213.3 L106.6,213.3" fill="none" stroke="#998b3a" stroke-width="1.0"/>
<path d="M106.6,213.3 L105.4,213.3 L104.2,213.3 L103.0,213.3 L101.8,213.2 L100.5,213.2 L99.3,213.1 L98.1,213.0 L96.9,212.8 L95.7,212.7 L94.5,212.5 L93.3,212.3 L92.2,212.1 L91.1,211.9 L90.0,211.6 L88.9,211.3 L87.8,211.1 L86.8,210.7 L85.7,210.4 L84.6,210.1 L83.6,209.7 L82.5,209.3 L81.5,208.9 L80.5,208.5 L79.5,208.1 L78.5,207.6 L77.5,207.1 L76.5,206.6 L75.5,206.0 L74.6,205.5 L73.6,204.9 L72.6,204.4 L71.7,203.8 L70.8,203.2 L69.9,202.6 L69.0,202.0" fill="none" stroke="#76723c" stroke-width="1.0"/>
<path d="M69.0,202.0 L68.2,201.4 L67.4,200.8 L66.6,200.2 L65.8,199.6 L65.1,199.0 L64.3,198.4 L63.6,197.8 L62.8,197.1 L62.1,196.5 L61.4,195.9 L60.7,195.4 L60.0,194.8 L59.4,194.3 L58.9,193.9 L58.3,193.5 L57.8,193.1 L57.2,192.7 L56.7,192.2 L56.2,191.8 L55.6,191.4 L55.1,191.0 L54.6,190.6 L54.0,190.2 L53.5,189.8 L52.9,189.4 L52.3,188.9 L51.7,188.5 L51.1,188.0 L50.6,187.6 L50.0,187.1 L49.4,186.7 L48.8,186.2 L48.2,185.8 L47.6,185.3 L47.0,184.9 L46.5,184.5 L46.0,184.2 L45.6,183.8 L45.2,183.5 L44.7,183.2 L44.3,182.9 L43.9,182.6 L43.5,182.3 L43.1,182.0 L42.6,181.7 L42.2,181.4 L41.8,181.0 L41.3,180.6" fill="none" stroke="#4b7358" stroke-width="1.0"/>
<path d="M228.4,96.8 L228.5,97.6 L228.6,98.4 L228.7,99.2 L228.8,100.0 L228.8,100.8 L228.9,101.6 L229.0,102.4 L229.0,103.2 L229.0,104.0 L229.0,104.8 L229.0,105.7 L229.0,106.5 L228.9,107.3 L228.8,108.1 L228.8,109.0 L228.7,109.8 L228.6,110.6 L228.5,111.5 L228.4,112.3 L228.2,113.2 L228.1,114.1 L227.9,115.1 L227.7,116.2 L227.5,117.3 L227.3,118.3 L227.1,119.4 L226.8,120.5 L226.5,121.6 L226.3,122.7 L226.0,123.8 L225.7,124.9 L225.3,126.0 L225.0,127.0 L224.7,128.0 L224.3,128.9 L224.0,129.9 L223.7,130.8 L223.3,131.8 L222.9,132.7 L222.5,133.7 L222.1,134.6 L221.7,135.5 L221.2,136.3 L220.8,137.2 L220.3,138.0 L219.8,138.7 L219.3,139.5 L218.8,140.1 L218.2,140.8 L217.7,141.5 L217.1,142.1 L216.5,142.7 L215.9,143.4 L215.3,144.0 L214.8,144.7 L214.2,145.3 L213.7,146.0 L213.2,146.7 L212.7,147.4 L212.2,148.1 L211.6,148.8 L211.1,149.5 L210.6,150.2 L210.1,150.9 L209.7,151.6 L209.2,152.3 L208.8,153.0 L208.4,153.8 L208.0,154.5 L207.7,155.2 L207.3,155.9 L207.0,156.6 L206.8,157.3 L206.5,158.0" fill="none" stroke="#9f4d22" stroke-width="1.0"/>
<path d="M206.5,158.0 L206.2,158.7 L206.0,159.4 L205.8,160.1 L205.5,160.8 L205.3,161.5 L205.2,162.3 L205.0,163.0 L204.9,163.7 L204.7,164.5 L204.6,165.2 L204.5,165.9 L204.4,166.6 L204.4,167.4 L204.3,168.1 L204.3,168.9 L204.3,169.6 L204.2,170.4 L204.2,171.2 L204.2,172.0 L204.2,173.0 L204.2,174.0 L204.3,175.1 L204.3,176.1 L204.4,177.2 L204.5,178.3 L204.5,179.4 L204.6,180.6 L204.7,181.7 L204.8,182.8 L204.9,183.9 L205.0,185.0 L205.1,186.1 L205.2,187.2 L205.3,188.4 L205.4,189.5 L205.5,190.7 L205.6,191.8 L205.7,192.9 L205.8,194.1 L205.9,195.2 L206.0,196.3 L206.1,197.4 L206.2,198.5 L206.3,199.5 L206.4,200.4 L206.5,201.4 L206.6,202.3 L206.6,203.2 L206.7,204.2 L206.8,205.1 L206.9,206.0 L206.9,207.0 L207.0,208.0 L207.0,209.0 L207.0,210.0 L207.0,211.3 L207.0,212.6 L206.9,214.0 L206.9,215.4 L206.8,216.8 L206.8,218.2 L206.7,219.7 L206.5,221.1 L206.4,222.5 L206.1,223.9 L205.9,225.3 L205.6,226.7 L205.3,228.1" fill="none" stroke="#af782c" stroke-width="1.0"/>
<path d="M205.3,228.1 L204.9,229.5 L204.5,230.8 L204.0,232.2 L203.6,233.6 L203.1,235.0 L202.5,236.3 L201.9,237.6 L201.3,238.9 L200.6,240.2 L199.9,241.4 L199.2,242.6 L198.4,243.7 L197.6,244.8 L196.8,245.9 L195.9,247.0 L195.0,248.1 L194.0,249.1 L193.0,250.1 L192.0,251.0 L191.0,251.9 L189.9,252.7 L188.8,253.4 L187.7,254.1 L186.6,254.7 L185.5,255.2 L184.3,255.7 L183.1,256.1 L181.9,256.5 L180.6,256.9 L179.4,257.2 L178.1,257.4 L176.9,257.6 L175.7,257.7 L174.5,257.8 L173.3,257.9 L172.3,257.9 L171.3,257.9 L170.2,257.8 L169.2,257.7 L168.2,257.5 L167.2,257.4 L166.2,257.1 L165.3,256.9 L164.3,256.6 L163.4,256.3 L162.5,256.0 L161.7,255.6 L161.0,255.3 L160.3,254.9 L159.6,254.5 L159.0,254.0" fill="none" stroke="#c78133" stroke-width="1.0"/>
<path d="M159.0,254.0 L158.3,253.5 L157.7,253.1 L157.1,252.5 L156.5,252.0 L156.0,251.5 L155.5,251.0 L155.0,250.5 L154.5,250.0 L154.1,249.6 L153.8,249.2 L153.5,248.8 L153.2,248.4 L152.9,248.0 L152.6,247.6 L152.4,247.2 L152.2,246.8 L151.9,246.4 L151.7,245.9 L151.5,245.5 L151.3,245.0 L151.1,244.4 L150.9,243.8 L150.7,243.2 L150.6,242.6 L150.4,241.9 L150.3,241.2 L150.2,240.6 L150.1,239.9 L150.0,239.2 L149.9,238.4 L149.8,237.7 L149.7,237.0 L149.6,236.1 L149.5,235.2 L149.4,234.3 L149.3,233.4 L149.3,232.5 L149.2,231.5 L149.2,230.6 L149.1,229.6 L149.1,228.6 L149.0,227.7" fill="none" stroke="#b6a93c" stroke-width="1.0"/>
<path d="M149.0,227.7 L149.0,226.7 L148.9,225.8 L148.8,224.9 L148.8,223.9 L148.8,222.9 L148.7,222.0 L148.7,221.0 L148.7,220.0 L148.6,219.1 L148.6,218.1 L148.5,217.2 L148.4,216.3 L148.3,215.4 L148.1,214.6 L147.9,213.9 L147.8,213.2 L147.6,212.6 L147.4,212.0 L147.1,211.3 L146.9,210.7 L146.7,210.1 L146.4,209.5 L146.1,208.9 L145.8,208.3 L145.5,207.8 L145.2,207.2 L144.8,206.6 L144.5,206.1 L144.1,205.5 L143.7,205.0 L143.2,204.5 L142.8,204.0 L142.3,203.4 L141.9,202.9 L141.4,202.4 L140.9,201.9 L140.5,201.3 L140.0,200.8 L139.5,200.2 L139.0,199.5 L138.5,198.9 L137.9,198.2 L137.4,197.6 L136.9,196.9 L136.3,196.3 L135.8,195.6 L135.2,195.0 L134.7,194.3 L134.1,193.7 L133.6,193.1 L133.1,192.5 L132.6,192.0 L132.0,191.4 L131.5,190.9 L131.0,190.3 L130.4,189.8 L129.9,189.3 L129.4,188.7 L128.8,188.2 L128.3,187.7 L127.7,187.2 L127.2,186.7 L126.7,186.2 L126.2,185.8 L125.6,185.3 L125.1,184.9 L124.6,184.5 L124.0,184.0 L123.5,183.6 L122.9,183.2 L122.4,182.8 L121.9,182.4 L121.3,181.9 L120.8,181.5 L120.3,181.1 L119.7,180.6 L119.2,180.2 L118.6,179.7 L118.0,179.3 L117.5,178.8 L116.9,178.4 L116.4,178.0 L115.9,177.6 L115.4,177.1 L114.9,176.8" fill="none" stroke="#a78a30" stroke-width="1.0"/>
<path d="M114.9,176.8 L114.4,176.4 L114.1,176.2 L113.8,175.9 L113.5,175.7 L113.2,175.5 L113.0,175.4 L112.7,175.2 L112.4,175.0 L112.2,174.8 L111.9,174.6 L111.6,174.4 L111.3,174.1 L111.0,173.8 L110.4,173.2 L109.8,172.6 L109.2,171.9 L108.5,171.1 L107.9,170.3 L107.2,169.4 L106.5,168.5 L105.8,167.6 L105.1,166.8 L104.4,165.9 L103.7,165.0 L103.0,164.2 L102.3,163.4 L101.6,162.6 L100.9,161.8 L100.2,161.0 L99.5,160.2 L98.8,159.4 L98.1,158.7 L97.4,157.9 L96.7,157.1 L96.1,156.2 L95.5,155.4 L95.0,154.6 L94.6,153.9 L94.2,153.1 L93.8,152.4 L93.4,151.6 L93.1,150.8 L92.8,150.1 L92.5,149.3 L92.2,148.5 L91.9,147.7" fill="none" stroke="#b6a93c" stroke-width="1.0"/>
<path d="M91.9,147.7 L91.7,147.0 L91.4,146.2 L91.2,145.4 L91.0,144.6 L90.8,143.8 L90.6,143.1 L90.5,142.3 L90.3,141.5 L90.2,140.7 L90.1,139.9 L90.0,139.1 L89.9,138.3 L89.8,137.5 L89.7,136.6 L89.6,135.8 L89.5,134.9 L89.4,134.0 L89.3,133.0 L89.2,132.1 L89.1,131.1 L89.0,130.2 L89.0,129.2 L88.9,128.3 L88.8,127.3 L88.8,126.4 L88.8,125.5 L88.8,124.6 L88.8,123.8 L88.8,123.1 L88.9,122.4 L88.9,121.6 L89.0,120.9 L89.0,120.2 L89.1,119.5 L89.2,118.8 L89.3,118.1 L89.4,117.4 L89.5,116.7 L89.6,116.0 L89.7,115.3 L89.9,114.6 L90.0,114.0 L90.1,113.3 L90.3,112.6 L90.5,112.0 L90.6,111.3" fill="none" stroke="#c78133" stroke-width="1.0"/>
<path d="M90.6,111.3 L90.8,110.7 L91.0,110.0 L91.2,109.3 L91.3,108.7 L91.5,108.0 L91.7,107.3 L91.8,106.7 L92.0,106.0 L92.1,105.3 L92.3,104.7 L92.5,104.0 L92.6,103.3 L92.8,102.7 L93.0,102.0 L93.1,101.3 L93.3,100.7 L93.5,100.0 L93.7,99.3 L93.9,98.6 L94.1,98.0 L94.4,97.3 L94.6,96.6 L94.8,95.9 L95.0,95.2 L95.3,94.5 L95.5,93.8 L95.7,93.1 L96.0,92.4 L96.2,91.6 L96.5,90.6 L96.7,89.6 L97.0,88.5 L97.3,87.4 L97.5,86.2 L97.8,85.1 L98.1,83.9 L98.3,82.8 L98.6,81.7 L98.9,80.6 L99.3,79.5 L99.6,78.5 L99.9,77.6 L100.2,76.8 L100.6,76.0 L100.9,75.2 L101.3,74.4 L101.6,73.6 L102.0,72.8 L102.4,72.0 L102.8,71.3 L103.2,70.5 L103.6,69.8 L104.0,69.0 L104.4,68.3 L104.8,67.5 L105.3,66.8 L105.7,66.1 L106.2,65.3 L106.6,64.6 L107.1,63.9 L107.6,63.2 L108.1,62.5 L108.6,61.8 L109.1,61.1 L109.7,60.4 L110.4,59.6 L111.1,58.8 L111.8,58.0 L112.6,57.2 L113.3,56.4 L114.1,55.6 L114.9,54.8 L115.7,54.0 L116.6,53.3 L117.4,52.6 L118.2,51.9 L119.0,51.2 L119.7,50.6 L120.4,50.1 L121.1,49.5 L121.9,49.0 L122.6,48.5 L123.3,48.0 L124.0,47.6 L124.8,47.1 L125.5,46.7 L126.3,46.3 L127.1,45.9 L127.9,45.5 L128.8,45.1 L129.7,44.8 L130.6,44.4 L131.5,44.1 L132.4,43.9 L133.4,43.6 L134.3,43.3 L135.3,43.1 L136.2,42.9 L137.2,42.6 L138.2,42.4 L139.1,42.2 L140.0,42.0 L141.0,41.8 L141.9,41.6 L142.9,41.4 L143.8,41.2 L144.7,41.0 L145.7,40.9 L146.6,40.7 L147.6,40.6 L148.5,40.5 L149.5,40.4 L150.4,40.4 L151.3,40.4 L152.3,40.4 L153.2,40.4 L154.2,40.5 L155.1,40.6 L156.0,40.7 L157.0,40.8 L157.9,40.9 L158.8,41.0 L159.8,41.2 L160.7,41.3 L161.6,41.5 L162.5,41.7 L163.4,41.9 L164.3,42.1 L165.1,42.3 L166.0,42.5 L166.9,42.7 L167.8,43.0 L168.6,43.2 L169.5,43.5 L170.3,43.8 L171.2,44.0 L172.0,44.3 L172.8,44.6 L173.6,44.8 L174.3,45.1 L175.1,45.4 L175.8,45.7 L176.6,46.0 L177.3,46.3 L178.1,46.7 L178.9,47.0 L179.6,47.3 L180.4,47.7 L181.2,48.0 L182.1,48.4 L183.0,48.8 L183.9,49.2 L184.9,49.6 L185.8,50.0 L186.7,50.5 L187.7,50.9 L188.6,51.3 L189.6,51.8 L190.5,52.2 L191.5,52.7 L192.4,53.1 L193.3,53.5 L194.3,54.0 L195.3,54.4 L196.2,54.9 L197.2,55.3 L198.2,55.8 L199.1,56.2 L200.1,56.7 L201.0,57.2 L201.9,57.6 L202.8,58.1 L203.7,58.6 L204.5,59.0 L205.3,59.5 L206.1,59.9 L206.9,60.4 L207.7,60.8 L208.4,61.3 L209.2,61.7 L209.9,62.2 L210.6,62.7 L211.3,63.2 L212.0,63.7 L212.6,64.2 L213.2,64.7 L213.7,65.2 L214.2,65.7 L214.7,66.3 L215.2,66.8 L215.6,67.4 L216.1,68.0 L216.5,68.5 L216.9,69.1 L217.4,69.7 L217.8,70.3 L218.2,70.9 L218.6,71.5 L219.0,72.2 L219.4,72.8 L219.8,73.4 L220.2,74.1 L220.6,74.8 L221.0,75.4 L221.3,76.1 L221.7,76.8 L222.0,77.5 L222.4,78.1 L222.7,78.8 L223.0,79.4 L223.3,80.1 L223.7,80.7 L224.0,81.4 L224.3,82.0 L224.6,82.7 L224.8,83.3 L225.1,84.0 L225.4,84.6 L225.6,85.3 L225.9,85.9 L226.1,86.6 L226.3,87.2 L226.5,87.9 L226.7,88.5 L226.9,89.2 L227.0,89.8 L227.2,90.5 L227.3,91.1 L227.5,91.8 L227.6,92.5 L227.8,93.1 L227.9,93.8 L228.0,94.5 L228.1,95.3 L228.3,96.0 L228.4,96.8" fill="none" stroke="#a5231e" stroke-width="1.0"/>
<path d="M189.4,96.0 L189.8,96.5 L190.3,97.0 L190.7,97.5 L191.1,98.0 L191.5,98.5 L191.8,99.1 L192.2,99.6 L192.5,100.2 L192.7,100.8 L193.0,101.5 L193.2,102.1 L193.4,102.7 L193.6,103.4 L193.8,104.1 L193.9,104.7 L194.0,105.4 L194.0,106.0 L194.0,106.7 L193.9,107.3 L193.9,108.0 L193.7,108.7 L193.6,109.4 L193.4,110.1 L193.2,110.7 L192.9,111.4 L192.7,112.1 L192.5,112.7 L192.2,113.4 L192.0,114.0 L191.8,114.5 L191.6,115.1 L191.4,115.6 L191.1,116.1 L190.9,116.6 L190.7,117.1 L190.4,117.6 L190.1,118.1 L189.9,118.6 L189.6,119.0 L189.3,119.5 L189.0,120.0 L188.7,120.5 L188.3,120.9 L188.0,121.4 L187.6,121.8 L187.2,122.2 L186.9,122.7 L186.5,123.1 L186.1,123.6 L185.7,124.0 L185.3,124.5 L185.0,125.0 L184.6,125.5 L184.2,126.2 L183.7,126.9 L183.3,127.6 L182.8,128.3 L182.4,129.1 L182.0,129.8 L181.5,130.6 L181.1,131.4 L180.7,132.2 L180.3,133.0 L180.0,133.7 L179.6,134.5 L179.3,135.2 L179.0,135.9 L178.7,136.6 L178.4,137.3 L178.1,138.0 L177.8,138.7 L177.5,139.5 L177.3,140.2 L177.0,140.9 L176.8,141.6 L176.6,142.3 L176.4,143.0 L176.2,143.7 L176.1,144.3 L176.0,145.0 L175.8,145.6 L175.7,146.3 L175.7,147.0 L175.6,147.6 L175.5,148.3 L175.4,149.0 L175.3,149.6" fill="none" stroke="#6d7f2d" stroke-width="1.0"/>
<path d="M175.3,149.6 L175.3,150.3 L175.2,151.0 L175.1,151.7 L175.1,152.5 L175.0,153.2 L174.9,153.9 L174.9,154.7 L174.8,155.4 L174.8,156.2 L174.7,156.9 L174.7,157.7 L174.7,158.5 L174.6,159.2 L174.6,160.0 L174.6,160.8 L174.6,161.6 L174.5,162.5 L174.5,163.3 L174.5,164.1 L174.5,165.0 L174.5,165.8 L174.5,166.6 L174.6,167.5 L174.6,168.3 L174.6,169.2 L174.6,170.0 L174.6,170.8 L174.6,171.7 L174.7,172.5 L174.7,173.4 L174.7,174.2 L174.7,175.0 L174.8,175.9 L174.8,176.7 L174.8,177.5 L174.9,178.4 L174.9,179.2 L175.0,180.0 L175.1,180.8 L175.1,181.5 L175.2,182.3 L175.3,183.0 L175.4,183.7 L175.5,184.5 L175.5,185.2 L175.6,186.0 L175.7,186.7 L175.8,187.5 L175.9,188.2 L176.0,189.0 L176.1,189.9 L176.2,190.8 L176.3,191.7 L176.4,192.6 L176.5,193.5 L176.6,194.5 L176.7,195.4 L176.8,196.3 L176.9,197.3 L177.0,198.2 L177.1,199.1 L177.2,200.0 L177.3,200.8 L177.4,201.7 L177.5,202.5 L177.6,203.4 L177.7,204.2 L177.8,205.0 L177.9,205.9 L178.0,206.7 L178.1,207.5 L178.2,208.3 L178.2,209.2 L178.3,210.0 L178.4,210.8 L178.4,211.7 L178.5,212.5 L178.5,213.4 L178.6,214.2 L178.6,215.1 L178.6,215.9 L178.7,216.8 L178.6,217.6 L178.6,218.4 L178.6,219.2 L178.5,220.0 L178.4,220.7" fill="none" stroke="#949232" stroke-width="1.0"/>
<path d="M178.4,220.7 L178.3,221.4 L178.2,222.1 L178.0,222.8 L177.9,223.4 L177.7,224.1 L177.5,224.8 L177.3,225.4 L177.1,226.1 L176.9,226.7 L176.7,227.4 L176.5,228.0 L176.3,228.6 L176.1,229.3 L175.8,229.9 L175.6,230.5 L175.3,231.1 L175.1,231.7 L174.8,232.3 L174.5,232.9 L174.2,233.5 L173.9,234.1 L173.6,234.7 L173.3,235.3 L172.9,236.0 L172.5,236.6 L172.1,237.3 L171.7,237.9 L171.3,238.6 L170.8,239.2 L170.4,239.9 L169.9,240.5 L169.4,241.2 L169.0,241.8 L168.5,242.5 L168.0,243.1 L167.5,243.8 L167.0,244.4 L166.5,245.1 L165.9,245.8 L165.4,246.4 L164.9,247.1 L164.3,247.7 L163.8,248.4 L163.2,249.1 L162.7,249.7 L162.1,250.4 L161.5,251.0 L160.9,251.7 L160.3,252.3 L159.6,253.0 L159.0,253.7 L158.4,254.3 L157.7,255.0 L157.1,255.7 L156.4,256.3 L155.7,257.0 L155.0,257.6 L154.3,258.3 L153.6,258.9 L152.8,259.6 L152.0,260.3 L151.1,260.9 L150.3,261.6 L149.4,262.2 L148.5,262.9 L147.6,263.5 L146.7,264.2 L145.8,264.8 L144.9,265.5 L144.0,266.1 L143.1,266.8 L142.2,267.5 L141.3,268.1 L140.5,268.8 L139.6,269.5 L138.7,270.1 L137.8,270.8 L136.9,271.5 L136.1,272.1 L135.2,272.8 L134.3,273.4 L133.4,274.1 L132.5,274.7 L131.6,275.3 L130.8,275.9 L129.9,276.5 L129.0,277.1 L128.2,277.7 L127.3,278.3 L126.4,278.9 L125.6,279.5" fill="none" stroke="#8dba40" stroke-width="1.0"/>
<path d="M125.6,279.5 L124.7,280.0 L123.8,280.5 L122.9,281.0 L122.0,281.5 L121.1,281.9 L120.3,282.3 L119.4,282.7 L118.6,283.0 L117.7,283.4 L116.8,283.7 L116.0,284.0 L115.1,284.2 L114.2,284.5 L113.3,284.8 L112.4,285.0 L111.5,285.2 L110.6,285.4 L109.6,285.6 L108.7,285.7 L107.8,285.9 L106.8,286.0 L105.9,286.1 L104.9,286.2 L103.9,286.3 L103.0,286.4 L102.0,286.4 L101.0,286.5 L100.0,286.5 L98.9,286.5 L97.8,286.5 L96.7,286.5 L95.6,286.5 L94.4,286.5 L93.3,286.4 L92.2,286.4 L91.0,286.3 L89.9,286.2 L88.8,286.1 L87.7,286.0 L86.7,285.8 L85.8,285.7 L84.9,285.5 L84.0,285.3 L83.1,285.2 L82.2,285.0 L81.3,284.8 L80.5,284.6 L79.6,284.3 L78.8,284.1 L77.9,283.8 L77.1,283.4 L76.3,283.1 L75.5,282.7 L74.6,282.3 L73.8,281.8 L73.0,281.4 L72.2,280.9 L71.4,280.3 L70.7,279.8 L69.9,279.2 L69.1,278.7 L68.4,278.1 L67.6,277.5 L66.9,276.9 L66.2,276.3 L65.4,275.6 L64.7,275.0 L64.0,274.3 L63.3,273.6 L62.5,272.9 L61.9,272.2 L61.2,271.4 L60.5,270.7 L59.8,270.0 L59.2,269.2 L58.5,268.5 L57.9,267.8 L57.2,267.0 L56.6,266.3 L56.0,265.5 L55.4,264.7 L54.8,264.0 L54.2,263.2 L53.6,262.4 L53.0,261.6 L52.4,260.8 L51.9,260.0 L51.3,259.2 L50.7,258.4 L50.2,257.5 L49.6,256.7 L49.1,255.8 L48.6,254.9 L48.0,254.1 L47.5,253.2 L47.0,252.3 L46.5,251.4 L46.0,250.6 L45.5,249.7 L45.0,248.8 L44.5,247.9 L44.1,247.1 L43.6,246.2 L43.2,245.3 L42.7,244.4 L42.3,243.5 L41.9,242.6 L41.5,241.7 L41.0,240.8 L40.6,240.0 L40.2,239.1 L39.8,238.3 L39.4,237.6 L39.1,236.9 L38.7,236.2 L38.3,235.5 L37.9,234.8 L37.6,234.2 L37.2,233.5 L36.8,232.8 L36.5,232.1 L36.2,231.4 L35.9,230.7 L35.6,230.0 L35.3,229.2 L35.1,228.4 L34.8,227.6 L34.6,226.8 L34.4,226.0 L34.1,225.1 L34.0,224.3 L33.8,223.4 L33.6,222.6 L33.5,221.7 L33.3,220.9 L33.2,220.0 L33.1,219.1 L33.0,218.2 L32.9,217.2 L32.8,216.3 L32.8,215.4 L32.7,214.4 L32.7,213.5 L32.7,212.5 L32.7,211.5 L32.7,210.5 L32.7,209.5 L32.8,208.5 L32.9,207.3 L33.0,206.0 L33.1,204.7 L33.3,203.4 L33.5,202.1 L33.7,200.8 L33.9,199.5 L34.1,198.1 L34.4,196.8 L34.7,195.5 L35.0,194.3 L35.4,193.1 L35.8,192.0 L36.2,190.9 L36.6,189.9 L37.1,188.8 L37.6,187.8 L38.1,186.8 L38.6,185.8 L39.2,184.8 L39.7,183.8 L40.2,182.8 L40.8,181.9 L41.3,181.0 L41.8,180.2 L42.2,179.5 L42.7,178.7 L43.1,178.0 L43.6,177.2 L44.0,176.5 L44.5,175.8 L45.0,175.1 L45.5,174.5 L46.0,173.8 L46.5,173.1 L47.0,172.5 L47.5,171.9 L48.0,171.3 L48.5,170.7 L49.1,170.2 L49.6,169.6 L50.2,169.0 L50.7,168.5 L51.3,168.0 L51.8,167.5 L52.4,167.0 L52.9,166.5 L53.5,166.0 L54.0,165.6 L54.6,165.2 L55.1,164.7 L55.6,164.4 L56.1,164.0 L56.7,163.6 L57.2,163.2 L57.8,162.9 L58.3,162.5 L58.9,162.2 L59.4,161.8 L60.0,161.5 L60.6,161.2 L61.1,160.9 L61.7,160.6 L62.2,160.3 L62.8,160.0 L63.3,159.7 L63.9,159.4 L64.5,159.1 L65.1,158.8 L65.7,158.6 L66.3,158.3 L67.0,158.0" fill="none" stroke="#379137" stroke-width="1.0"/>
<path d="M67.0,158.0 L67.9,157.6 L68.9,157.2 L70.0,156.9 L71.1,156.5 L72.2,156.1 L73.4,155.7 L74.5,155.4 L75.7,155.0 L76.8,154.6 L77.9,154.3 L79.0,153.9 L80.0,153.5 L80.9,153.2 L81.7,152.8 L82.6,152.5 L83.4,152.2 L84.3,151.9 L85.1,151.5 L85.9,151.2 L86.7,150.9 L87.5,150.5 L88.2,150.2 L88.9,149.9 L89.6,149.5 L90.1,149.2 L90.6,148.9 L91.1,148.7 L91.6,148.4 L92.0,148.1 L92.5,147.8 L92.9,147.5 L93.3,147.2 L93.7,146.9 L94.2,146.6 L94.6,146.3 L95.0,146.0 L95.4,145.7 L95.8,145.3 L96.2,145.0 L96.6,144.6 L97.0,144.2 L97.4,143.9 L97.8,143.5 L98.2,143.1 L98.6,142.7 L99.0,142.3 L99.4,141.9 L99.8,141.5 L100.3,141.0 L100.8,140.5 L101.3,140.0 L101.9,139.5 L102.4,138.9 L102.9,138.4 L103.5,137.8 L104.0,137.3 L104.6,136.7 L105.1,136.2 L105.7,135.6 L106.2,135.1 L106.7,134.6 L107.3,134.0 L107.9,133.5 L108.4,133.0 L109.0,132.4 L109.6,131.9 L110.1,131.3 L110.7,130.8 L111.2,130.3 L111.7,129.7 L112.2,129.2 L112.6,128.7" fill="none" stroke="#8dba40" stroke-width="1.0"/>
<path d="M112.6,128.7 L112.9,128.3 L113.2,127.9 L113.5,127.5 L113.8,127.1 L114.0,126.7 L114.3,126.3 L114.5,125.9 L114.8,125.5 L115.0,125.1 L115.3,124.7 L115.5,124.3 L115.8,123.8 L116.2,123.2 L116.5,122.6 L116.9,121.9 L117.3,121.3 L117.7,120.6 L118.1,119.9 L118.5,119.2 L118.9,118.5 L119.3,117.8 L119.7,117.1 L120.2,116.5 L120.6,115.8 L121.1,115.1 L121.6,114.4 L122.1,113.7 L122.6,113.0 L123.1,112.4 L123.6,111.7 L124.1,111.0 L124.7,110.3 L125.2,109.7 L125.8,109.0 L126.4,108.4 L127.0,107.8 L127.6,107.2 L128.3,106.7 L128.9,106.1 L129.6,105.6 L130.3,105.1 L131.0,104.6 L131.7,104.1 L132.4,103.6 L133.1,103.1 L133.8,102.6 L134.5,102.0 L135.1,101.4 L135.8,100.7 L136.4,100.0 L137.0,99.3 L137.6,98.5 L138.2,97.7 L138.8,96.9 L139.4,96.1 L140.0,95.3 L140.6,94.6 L141.2,93.8 L141.8,93.1 L142.4,92.5 L142.9,92.0 L143.4,91.5 L143.9,91.0 L144.4,90.5 L144.9,90.0 L145.4,89.5 L145.9,89.1 L146.5,88.6 L147.0,88.2 L147.6,87.9 L148.2,87.5 L148.8,87.2 L149.6,86.9 L150.3,86.6 L151.2,86.3 L152.0,86.1 L152.9,85.9 L153.8,85.8 L154.7,85.7 L155.6,85.5 L156.6,85.4 L157.5,85.4 L158.4,85.3 L159.3,85.2 L160.2,85.1 L161.2,85.1 L162.1,85.0 L163.1,85.0 L164.0,85.0 L165.0,85.0 L165.9,85.0 L166.9,85.1 L167.8,85.1 L168.7,85.2 L169.6,85.4 L170.5,85.5 L171.3,85.7 L172.0,85.8 L172.8,86.0 L173.5,86.2 L174.2,86.5 L174.9,86.7 L175.6,87.0 L176.3,87.3 L177.0,87.6 L177.7,87.9 L178.3,88.2 L179.0,88.5 L179.6,88.8 L180.2,89.1 L180.8,89.5 L181.4,89.8 L181.9,90.2 L182.5,90.6 L183.0,91.0 L183.6,91.4 L184.1,91.8 L184.6,92.2 L185.2,92.6 L185.7,93.0 L186.2,93.4 L186.8,93.8 L187.3,94.3 L187.8,94.7 L188.3,95.1 L188.9,95.6 L189.4,96.0" fill="none" stroke="#379137" stroke-width="1.0"/>
<path d="M133.5,145.5 L134.3,145.8 L135.0,146.1 L135.9,146.3 L136.7,146.5 L137.6,146.6 L138.5,146.7 L139.4,146.8 L140.3,146.9 L141.2,147.0 L142.1,147.1 L143.1,147.2 L144.0,147.3 L145.0,147.4 L146.1,147.5 L147.1,147.7 L148.2,147.8 L149.3,147.9 L150.4,148.0 L151.5,148.0 L152.6,148.1 L153.7,148.2 L154.8,148.3 L155.9,148.4 L157.0,148.5 L158.1,148.6 L159.2,148.7 L160.2,148.8 L161.3,148.9 L162.4,149.0 L163.4,149.1 L164.5,149.2 L165.6,149.3 L166.7,149.4 L167.8,149.4 L168.9,149.5 L170.0,149.6 L171.2,149.7 L172.5,149.7 L173.8,149.8 L175.1,149.9 L176.4,149.9 L177.7,150.0 L179.0,150.0 L180.3,150.1 L181.5,150.1 L182.7,150.2 L183.9,150.3 L185.0,150.4 L185.8,150.5 L186.6,150.5 L187.3,150.6 L188.0,150.7 L188.7,150.8 L189.4,150.8 L190.0,150.9 L190.7,151.0 L191.4,151.2 L192.1,151.3 L192.8,151.5 L193.5,151.7 L194.4,152.0 L195.3,152.3 L196.2,152.7 L197.2,153.1 L198.1,153.5 L199.1,154.0 L200.0,154.4 L201.0,154.9 L201.9,155.5 L202.9,156.0 L203.8,156.5 L204.7,157.1 L205.7,157.7 L206.6,158.4 L207.6,159.1 L208.6,159.8 L209.5,160.5 L210.5,161.3 L211.4,162.0 L212.4,162.8 L213.3,163.6 L214.2,164.4 L215.0,165.3 L215.9,166.1 L216.7,167.0 L217.5,167.8 L218.3,168.7 L219.1,169.7 L219.9,170.6 L220.6,171.6 L221.4,172.5 L222.1,173.5 L222.8,174.5 L223.5,175.4 L224.2,176.4 L224.9,177.3 L225.5,178.2 L226.1,179.0 L226.7,179.8 L227.3,180.7 L227.9,181.5 L228.5,182.3 L229.0,183.2 L229.6,184.0 L230.1,184.9 L230.6,185.7 L231.2,186.6 L231.7,187.5 L232.2,188.4 L232.8,189.3 L233.3,190.3 L233.8,191.2 L234.3,192.1 L234.8,193.1 L235.3,194.0 L235.7,195.0 L236.2,196.0 L236.6,197.0 L237.1,198.0 L237.5,199.0 L237.9,200.1 L238.4,201.3 L238.8,202.5 L239.2,203.7 L239.6,204.9 L239.9,206.1 L240.3,207.3 L240.6,208.6 L240.9,209.8 L241.2,211.0 L241.5,212.3 L241.8,213.5 L242.0,214.7 L242.3,215.9 L242.5,217.1 L242.7,218.3 L242.9,219.5 L243.0,220.7 L243.2,222.0 L243.3,223.2 L243.5,224.4" fill="none" stroke="#b69e29" stroke-width="1.0"/>
<path d="M243.5,224.4 L243.6,225.5 L243.7,226.7 L243.8,227.9 L243.9,229.0 L244.0,230.1 L244.0,231.1 L244.1,232.2 L244.2,233.3 L244.2,234.3 L244.2,235.4 L244.3,236.4 L244.3,237.5 L244.3,238.5 L244.2,239.5 L244.2,240.5 L244.2,241.4 L244.1,242.3 L244.0,243.2 L244.0,244.1 L243.9,244.9 L243.8,245.8 L243.7,246.7 L243.5,247.5 L243.4,248.4 L243.2,249.2 L243.1,250.1 L242.9,251.0 L242.7,252.0 L242.5,252.9 L242.3,253.9 L242.1,254.9 L241.9,255.8 L241.6,256.8 L241.4,257.8 L241.1,258.8 L240.8,259.7 L240.4,260.7 L240.0,261.6 L239.5,262.5 L238.9,263.5 L238.3,264.4 L237.6,265.4 L236.9,266.3 L236.1,267.3 L235.3,268.2 L234.5,269.1 L233.6,269.9 L232.7,270.8 L231.8,271.7 L230.9,272.5 L230.0,273.3 L229.0,274.1 L228.0,274.9 L227.0,275.7 L226.0,276.5 L224.9,277.2 L223.8,277.9 L222.7,278.6 L221.6,279.3 L220.5,280.0 L219.3,280.7 L218.2,281.4 L217.0,282.0 L215.7,282.7 L214.5,283.3 L213.1,284.0 L211.8,284.6 L210.5,285.2 L209.1,285.8 L207.7,286.4 L206.4,286.9 L205.0,287.5 L203.6,288.0 L202.3,288.6 L200.9,289.1 L199.6,289.6 L198.3,290.1 L197.0,290.6 L195.7,291.1 L194.3,291.6 L193.0,292.0 L191.7,292.5 L190.4,292.9 L189.1,293.3 L187.8,293.7 L186.4,294.1 L185.1,294.4 L183.8,294.7 L182.5,295.0 L181.1,295.3 L179.8,295.5 L178.5,295.7 L177.1,296.0 L175.8,296.1 L174.5,296.3 L173.2,296.5 L171.9,296.6 L170.6,296.7 L169.3,296.8 L168.2,296.9 L167.0,296.9 L165.9,297.0 L164.8,297.0 L163.7,297.0 L162.7,297.0 L161.6,297.0 L160.5,296.9 L159.4,296.8 L158.4,296.8 L157.3,296.6 L156.2,296.5 L155.1,296.3 L154.0,296.2 L152.9,296.0 L151.7,295.7 L150.6,295.5 L149.5,295.2 L148.4,294.9 L147.3,294.6 L146.2,294.3 L145.2,293.9 L144.1,293.5 L143.1,293.1 L142.1,292.7 L141.2,292.2 L140.3,291.7 L139.4,291.2 L138.5,290.7 L137.6,290.2 L136.8,289.6 L135.9,289.0 L135.0,288.4 L134.2,287.8 L133.3,287.2 L132.5,286.5 L131.6,285.8 L130.7,285.0 L129.7,284.2 L128.8,283.3 L127.9,282.5 L127.0,281.6 L126.1,280.7 L125.3,279.7 L124.4,278.8 L123.6,277.9 L122.8,276.9 L122.0,276.0 L121.3,275.1 L120.5,274.1 L119.8,273.2 L119.1,272.2 L118.4,271.3 L117.7,270.3 L117.1,269.3 L116.4,268.3 L115.8,267.3 L115.3,266.3 L114.7,265.2 L114.2,264.2 L113.7,263.2 L113.3,262.1 L112.9,261.0 L112.5,259.9 L112.1,258.8 L111.8,257.6 L111.4,256.5 L111.1,255.4 L110.9,254.3 L110.6,253.2 L110.4,252.1 L110.2,251.0 L110.0,250.1 L109.9,249.1 L109.8,248.2 L109.8,247.4 L109.7,246.5 L109.7,245.6 L109.7,244.7 L109.7,243.8 L109.6,242.9 L109.6,241.9 L109.6,241.0 L109.6,240.0 L109.6,238.8" fill="none" stroke="#d7d42d" stroke-width="1.0"/>
<path d="M109.6,238.8 L109.6,237.5 L109.6,236.1 L109.7,234.7 L109.7,233.3 L109.7,231.9 L109.8,230.5 L109.8,229.1 L109.8,227.7 L109.8,226.4 L109.7,225.2 L109.6,224.0 L109.5,223.2 L109.4,222.3 L109.2,221.5 L109.1,220.8 L108.9,220.0 L108.8,219.3 L108.6,218.6 L108.4,217.8 L108.2,217.1 L108.0,216.4 L107.7,215.7 L107.5,215.0 L107.3,214.3 L107.0,213.6 L106.8,212.9 L106.5,212.3 L106.2,211.6 L105.9,210.9 L105.6,210.3 L105.3,209.6 L105.0,209.0 L104.7,208.3 L104.4,207.7 L104.0,207.0 L103.6,206.3 L103.2,205.6 L102.8,204.9 L102.4,204.3 L101.9,203.6 L101.5,202.9 L101.0,202.2 L100.5,201.6 L100.0,200.9 L99.5,200.3 L99.0,199.6 L98.5,199.0 L97.9,198.4 L97.4,197.8 L96.7,197.2 L96.1,196.6 L95.5,196.0 L94.8,195.4 L94.2,194.9 L93.5,194.3 L92.9,193.7 L92.2,193.2 L91.6,192.6 L91.0,192.0 L90.4,191.4 L89.8,190.9 L89.2,190.3 L88.6,189.7" fill="none" stroke="#b69e29" stroke-width="1.0"/>
<path d="M88.6,189.7 L88.0,189.1 L87.4,188.6 L86.8,188.0 L86.2,187.4 L85.7,186.8 L85.1,186.2 L84.5,185.6 L84.0,185.0 L83.5,184.4 L82.9,183.7 L82.4,183.1 L81.9,182.4 L81.4,181.8 L80.9,181.1 L80.4,180.4 L79.9,179.7 L79.5,179.1 L79.0,178.4 L78.5,177.7 L78.0,177.0 L77.5,176.3 L77.0,175.5 L76.5,174.8 L75.9,174.1 L75.4,173.3 L74.9,172.6 L74.4,171.8 L73.9,171.1 L73.4,170.3 L72.9,169.5 L72.5,168.8 L72.0,168.0 L71.6,167.3 L71.1,166.5 L70.7,165.8 L70.3,165.0 L69.9,164.3 L69.5,163.5 L69.1,162.8 L68.8,162.0 L68.4,161.2 L68.1,160.5 L67.8,159.7 L67.5,159.0 L67.3,158.3 L67.0,157.7 L66.8,157.0 L66.6,156.3 L66.5,155.6 L66.3,155.0 L66.1,154.3 L66.0,153.6 L65.9,153.0 L65.7,152.3 L65.6,151.7 L65.5,151.0 L65.4,150.4 L65.3,149.8 L65.2,149.2 L65.1,148.6 L65.1,148.0 L65.0,147.4 L65.0,146.8 L64.9,146.3 L64.9,145.7 L64.8,145.1 L64.8,144.6 L64.8,144.0 L64.8,143.5 L64.8,143.1 L64.8,142.6 L64.8,142.2 L64.8,141.7 L64.8,141.3 L64.8,140.8 L64.8,140.4 L64.8,139.9 L64.9,139.5 L64.9,139.0 L65.0,138.5 L65.1,137.8 L65.2,137.2 L65.3,136.5 L65.5,135.8 L65.6,135.0 L65.8,134.3 L66.0,133.6 L66.2,132.8 L66.4,132.1 L66.6,131.4 L66.8,130.7 L67.0,130.0 L67.2,129.4 L67.4,128.8 L67.6,128.1 L67.9,127.5 L68.1,126.9 L68.3,126.3 L68.6,125.7 L68.8,125.1 L69.1,124.6 L69.4,124.0 L69.7,123.5 L70.0,123.0 L70.3,122.6 L70.6,122.1 L70.9,121.7 L71.2,121.3 L71.5,120.9 L71.9,120.6 L72.2,120.2 L72.5,119.8 L72.9,119.5 L73.3,119.2 L73.6,118.8 L74.0,118.5 L74.4,118.2 L74.8,117.9 L75.2,117.6 L75.6,117.3 L76.0,117.1 L76.4,116.8 L76.9,116.6 L77.3,116.3 L77.7,116.1 L78.1,115.9 L78.6,115.6 L79.0,115.4 L79.4,115.2 L79.8,115.0 L80.2,114.7 L80.6,114.5 L81.1,114.3 L81.5,114.1 L81.9,113.9 L82.3,113.7 L82.7,113.5 L83.2,113.4 L83.6,113.2 L84.0,113.0 L84.4,112.8 L84.9,112.7 L85.3,112.5 L85.7,112.3 L86.2,112.2 L86.6,112.0 L87.0,111.9 L87.5,111.8 L87.9,111.6 L88.3,111.5 L88.8,111.4 L89.2,111.3 L89.6,111.2 L90.0,111.1 L90.4,111.0 L90.8,111.0 L91.2,110.9 L91.6,110.8 L92.0,110.8 L92.4,110.8 L92.8,110.7 L93.2,110.7 L93.6,110.8 L94.0,110.8 L94.4,110.9 L94.7,110.9 L95.1,111.0 L95.4,111.1 L95.7,111.2 L96.1,111.3 L96.4,111.5 L96.7,111.6 L97.1,111.8 L97.4,111.9 L97.7,112.1 L98.0,112.3 L98.3,112.5 L98.6,112.8 L98.9,113.0 L99.2,113.3 L99.4,113.5 L99.7,113.8 L100.0,114.1 L100.2,114.4 L100.5,114.8 L100.8,115.1 L101.1,115.4 L101.4,115.8 L101.9,116.4 L102.4,117.0 L102.9,117.6 L103.4,118.3 L104.0,119.0 L104.5,119.7 L105.1,120.4 L105.6,121.2 L106.2,121.9 L106.7,122.6 L107.3,123.2 L107.8,123.8 L108.2,124.3 L108.6,124.7 L109.0,125.1 L109.4,125.6 L109.8,126.0 L110.2,126.4 L110.5,126.8 L110.9,127.2 L111.3,127.5 L111.7,127.9 L112.2,128.3 L112.6,128.7 L113.1,129.1 L113.6,129.5 L114.1,129.9 L114.6,130.3 L115.1,130.7 L115.7,131.1 L116.2,131.5 L116.8,131.9 L117.3,132.3 L117.9,132.7 L118.4,133.1 L119.0,133.5 L119.6,134.0 L120.3,134.5 L121.0,135.0 L121.6,135.6 L122.3,136.1 L123.0,136.7 L123.7,137.2 L124.4,137.8 L125.0,138.3 L125.7,138.8 L126.4,139.4 L127.0,139.9 L127.6,140.4 L128.1,140.9 L128.6,141.4 L129.1,141.9 L129.6,142.4 L130.1,143.0 L130.6,143.4 L131.2,143.9 L131.7,144.4 L132.3,144.8 L132.9,145.2 L133.5,145.5" fill="none" stroke="#d7d42d" stroke-width="1.0"/>
<path d="M68.5,207.0 L68.6,206.3 L68.6,205.7 L68.7,205.0 L68.8,204.3 L68.9,203.5 L69.1,202.8 L69.3,202.1 L69.5,201.5 L69.7,200.8 L69.9,200.2 L70.2,199.6 L70.5,199.0 L70.8,198.5 L71.1,198.1 L71.5,197.6 L71.8,197.2 L72.2,196.8 L72.6,196.5 L73.0,196.1 L73.5,195.7 L73.9,195.4 L74.4,195.1 L74.9,194.7 L75.4,194.4 L76.1,194.0 L76.8,193.6 L77.6,193.3 L78.5,192.9 L79.4,192.6 L80.2,192.3 L81.2,192.0 L82.1,191.7 L83.0,191.4 L83.9,191.1 L84.7,190.8 L85.6,190.5 L86.4,190.2 L87.2,189.9 L88.0,189.6 L88.8,189.3 L89.5,189.1 L90.3,188.8 L91.1,188.5 L91.9,188.2 L92.7,187.9 L93.4,187.6 L94.2,187.3 L95.0,187.0 L95.8,186.7 L96.6,186.3 L97.4,186.0 L98.2,185.7 L99.0,185.3 L99.8,185.0 L100.6,184.6 L101.4,184.3 L102.2,183.9 L103.0,183.5 L103.8,183.1 L104.6,182.7 L105.4,182.3 L106.2,181.9 L107.1,181.4 L107.9,181.0 L108.7,180.5 L109.5,180.1 L110.3,179.6 L111.1,179.1 L111.9,178.6 L112.7,178.1 L113.5,177.6 L114.2,177.0 L114.9,176.4 L115.7,175.8 L116.4,175.2 L117.1,174.6 L117.7,173.9 L118.4,173.3 L119.1,172.6 L119.7,171.9 L120.4,171.2 L121.0,170.5 L121.6,169.8 L122.2,169.0 L122.8,168.2 L123.4,167.3 L124.0,166.4 L124.6,165.5 L125.2,164.6 L125.7,163.6 L126.2,162.7 L126.7,161.7 L127.3,160.8 L127.7,159.8 L128.2,158.8 L128.7,157.8 L129.2,156.8 L129.6,155.7 L130.0,154.6 L130.4,153.6 L130.8,152.5 L131.2,151.4 L131.6,150.3 L131.9,149.2 L132.3,148.1 L132.7,147.0 L133.1,146.0 L133.5,145.0 L133.9,144.1 L134.3,143.3 L134.7,142.4 L135.1,141.6 L135.5,140.8 L135.9,140.0 L136.3,139.2 L136.7,138.4 L137.1,137.6 L137.5,136.7 L137.9,135.9 L138.3,135.1 L138.7,134.3 L139.0,133.4 L139.4,132.6 L139.8,131.7 L140.1,130.9 L140.5,130.0 L140.8,129.2 L141.2,128.3 L141.5,127.5 L141.9,126.6 L142.2,125.8 L142.5,125.0 L142.8,124.3 L143.0,123.6 L143.3,122.8 L143.5,122.1 L143.7,121.4 L144.0,120.7 L144.2,120.0 L144.4,119.3 L144.7,118.6 L145.0,118.0 L145.3,117.3 L145.6,116.7 L145.9,116.1 L146.3,115.5 L146.6,115.0 L147.0,114.4 L147.4,113.9 L147.8,113.4 L148.2,112.9 L148.6,112.4 L149.1,111.8 L149.5,111.3 L150.0,110.8 L150.4,110.3 L150.9,109.7 L151.4,109.2 L151.9,108.6 L152.4,108.0 L153.0,107.4 L153.5,106.8 L154.1,106.3 L154.6,105.7 L155.2,105.2 L155.8,104.7 L156.3,104.2 L156.9,103.8 L157.4,103.4 L157.9,103.1 L158.4,102.8 L159.0,102.5 L159.5,102.2 L160.0,102.0 L160.6,101.7 L161.1,101.5 L161.7,101.2 L162.2,101.0 L162.7,100.8 L163.3,100.6 L163.8,100.4 L164.4,100.2 L164.9,100.1 L165.4,100.0 L165.9,99.8 L166.5,99.7 L167.0,99.6 L167.6,99.5 L168.1,99.4 L168.7,99.3 L169.4,99.1 L170.0,99.0 L171.0,98.8 L172.0,98.6 L173.0,98.4 L174.1,98.2 L175.3,98.0 L176.5,97.8 L177.6,97.6 L178.8,97.4 L180.0,97.2 L181.2,97.0 L182.4,96.8 L183.5,96.7 L184.6,96.6 L185.7,96.4 L186.8,96.3 L187.9,96.2 L189.0,96.1 L190.1,96.0 L191.2,95.9 L192.3,95.8 L193.4,95.8 L194.6,95.7 L195.7,95.7 L196.9,95.6 L198.3,95.5 L199.8,95.5 L201.3,95.5 L202.8,95.4 L204.3,95.4 L205.9,95.4 L207.5,95.4 L209.0,95.4 L210.5,95.5 L212.0,95.5 L213.5,95.5 L214.9,95.6 L216.1,95.7 L217.3,95.7 L218.4,95.8 L219.6,95.8 L220.7,95.9 L221.8,96.0 L222.9,96.1 L224.0,96.2 L225.1,96.3 L226.1,96.4 L227.2,96.6 L228.3,96.7 L229.3,96.8 L230.3,97.0 L231.3,97.1 L232.3,97.3 L233.3,97.5 L234.3,97.7 L235.3,97.8 L236.2,98.0 L237.2,98.3 L238.1,98.5 L239.1,98.7 L240.0,99.0 L240.9,99.3 L241.7,99.5 L242.6,99.8 L243.5,100.1 L244.3,100.4 L245.2,100.7 L246.0,101.0 L246.8,101.3 L247.6,101.7 L248.4,102.1 L249.2,102.5 L250.0,103.0 L250.8,103.5 L251.6,104.1 L252.4,104.7 L253.2,105.3 L254.0,105.9 L254.8,106.6 L255.5,107.3 L256.2,108.0 L257.0,108.7 L257.7,109.5 L258.3,110.2 L259.0,111.0 L259.7,111.8 L260.3,112.7 L260.9,113.6 L261.5,114.5 L262.1,115.5 L262.7,116.4 L263.3,117.4 L263.8,118.4 L264.3,119.4 L264.8,120.4 L265.3,121.3 L265.8,122.3 L266.2,123.2 L266.7,124.1 L267.1,125.0 L267.5,125.9 L267.9,126.8 L268.2,127.7 L268.6,128.7 L268.9,129.6 L269.3,130.5 L269.6,131.4 L269.9,132.3 L270.2,133.2 L270.5,134.0 L270.8,134.9 L271.0,135.7 L271.3,136.5 L271.5,137.4 L271.8,138.2 L272.0,139.0 L272.2,139.9 L272.4,140.7 L272.6,141.6 L272.8,142.4 L272.9,143.3 L273.0,144.2 L273.1,145.2 L273.2,146.1 L273.3,147.1 L273.4,148.1 L273.4,149.1 L273.4,150.1 L273.4,151.0 L273.5,152.0 L273.5,153.0 L273.5,154.0 L273.5,155.0 L273.5,156.0 L273.5,157.0 L273.5,158.0 L273.5,159.0 L273.5,160.0 L273.5,161.0 L273.5,162.0 L273.4,163.0 L273.4,164.1 L273.4,165.1 L273.3,166.2 L273.3,167.3 L273.3,168.6 L273.2,170.0 L273.2,171.5 L273.2,172.9 L273.2,174.4 L273.2,175.9 L273.1,177.4 L273.1,178.9 L273.0,180.3 L272.9,181.8 L272.8,183.2 L272.6,184.6 L272.4,185.9 L272.2,187.1 L272.0,188.4 L271.8,189.6 L271.6,190.8 L271.3,192.0 L271.0,193.2 L270.7,194.4 L270.4,195.6 L270.0,196.8 L269.6,197.9 L269.2,199.0 L268.7,200.1 L268.3,201.1 L267.7,202.1 L267.2,203.1 L266.6,204.1 L266.0,205.1 L265.4,206.1 L264.8,207.0 L264.1,208.0 L263.4,208.9 L262.7,209.7 L262.0,210.6 L261.3,211.4 L260.5,212.2 L259.7,213.0 L258.9,213.8 L258.1,214.5 L257.2,215.2 L256.4,216.0 L255.5,216.6 L254.6,217.3 L253.7,218.0 L252.8,218.6 L251.9,219.2 L251.0,219.8 L250.1,220.4 L249.1,220.9 L248.2,221.4 L247.2,221.9 L246.3,222.4 L245.3,222.9 L244.3,223.4 L243.3,223.8 L242.4,224.2 L241.4,224.6 L240.4,225.0 L239.5,225.3 L238.5,225.7 L237.5,226.0 L236.6,226.2 L235.6,226.5 L234.6,226.8 L233.7,227.0 L232.7,227.2 L231.7,227.4 L230.7,227.6 L229.8,227.7 L228.8,227.9 L227.8,228.0 L226.9,228.1 L225.9,228.2 L224.9,228.3 L224.0,228.4 L223.0,228.4 L222.0,228.4 L221.1,228.5 L220.1,228.5 L219.2,228.5 L218.2,228.5 L217.3,228.5 L216.5,228.5 L215.7,228.5 L214.9,228.5 L214.1,228.5 L213.4,228.5 L212.6,228.4 L211.8,228.4 L211.1,228.4 L210.3,228.3 L209.5,228.2 L208.7,228.1 L207.9,228.0 L207.0,227.8 L206.0,227.6 L205.1,227.4 L204.2,227.2 L203.2,226.9 L202.2,226.6 L201.3,226.3 L200.3,226.0 L199.3,225.8 L198.3,225.5 L197.3,225.2 L196.3,224.9 L195.1,224.6 L194.0,224.3 L192.8,223.9 L191.5,223.6 L190.3,223.2 L189.0,222.9 L187.8,222.5 L186.6,222.2 L185.4,221.9 L184.2,221.6 L183.0,221.4 L181.9,221.2 L181.0,221.1 L180.1,221.0 L179.3,220.9 L178.4,220.8 L177.6,220.7 L176.8,220.6 L176.0,220.6 L175.2,220.6 L174.4,220.6 L173.6,220.6 L172.8,220.6 L172.0,220.6 L171.3,220.6 L170.6,220.7 L170.0,220.7 L169.3,220.8 L168.6,220.9 L168.0,221.0 L167.3,221.1 L166.7,221.2 L166.0,221.3 L165.4,221.4 L164.8,221.6 L164.1,221.7 L163.4,221.9 L162.8,222.0 L162.1,222.2 L161.4,222.5 L160.7,222.7 L160.1,222.9 L159.4,223.1 L158.8,223.4 L158.1,223.6 L157.4,223.9 L156.8,224.1 L156.1,224.4 L155.4,224.7 L154.8,224.9 L154.1,225.2 L153.4,225.5 L152.8,225.8 L152.1,226.1 L151.5,226.4 L150.8,226.8 L150.1,227.1 L149.5,227.4 L148.8,227.7 L148.1,228.0 L147.3,228.3 L146.6,228.7 L145.8,229.1 L145.0,229.4 L144.2,229.8 L143.4,230.1 L142.6,230.5 L141.7,230.9 L140.9,231.2 L140.1,231.6 L139.3,231.9 L138.5,232.2 L137.7,232.5 L136.9,232.8 L136.1,233.1 L135.3,233.4 L134.5,233.6 L133.7,233.9 L132.9,234.2 L132.0,234.4 L131.2,234.7 L130.4,234.9 L129.6,235.2 L128.8,235.4 L128.0,235.6 L127.2,235.9 L126.4,236.1 L125.6,236.3 L124.8,236.5 L124.0,236.8 L123.2,237.0 L122.4,237.2 L121.6,237.4 L120.8,237.6 L120.0,237.7 L119.2,237.9 L118.4,238.1 L117.6,238.2 L116.8,238.3 L116.0,238.5 L115.2,238.6 L114.4,238.7 L113.6,238.8 L112.8,238.9 L112.0,239.0 L111.2,239.1 L110.4,239.1 L109.6,239.2 L108.8,239.2 L108.0,239.3 L107.2,239.3 L106.4,239.3 L105.6,239.3 L104.8,239.2 L104.0,239.2 L103.2,239.2 L102.4,239.1 L101.6,239.1 L100.8,239.1 L100.0,239.0 L99.2,239.0 L98.5,238.9 L97.7,238.9 L96.9,238.9 L96.2,238.8 L95.4,238.8 L94.6,238.7 L93.9,238.6 L93.1,238.5 L92.3,238.4 L91.6,238.2 L90.8,238.0 L89.9,237.7 L89.1,237.4 L88.2,237.1 L87.3,236.7 L86.4,236.3 L85.5,235.9 L84.6,235.4 L83.7,235.0 L82.9,234.5 L82.1,233.9 L81.3,233.4 L80.5,232.8 L79.7,232.2 L79.0,231.5 L78.3,230.8 L77.6,230.1 L76.9,229.4 L76.2,228.6 L75.6,227.8 L75.0,227.0 L74.4,226.2 L73.8,225.4 L73.3,224.6 L72.8,223.8 L72.4,223.0 L72.0,222.2 L71.6,221.4 L71.2,220.6 L70.9,219.7 L70.6,218.9 L70.3,218.1 L70.0,217.2 L69.8,216.4 L69.6,215.6 L69.4,214.8 L69.2,214.0 L69.1,213.4 L68.9,212.8 L68.8,212.2 L68.7,211.6 L68.6,211.0 L68.6,210.5 L68.5,209.9 L68.5,209.3 L68.5,208.8 L68.5,208.2 L68.5,207.6 L68.5,207.0" fill="none" stroke="#6e5428" stroke-width="1.0"/>
<text x="51.9" y="119.9" class="n">81</text>
<text x="162.4" y="69.9" class="n">35</text>
<text x="110.0" y="101.9" class="n">76</text>
<text x="160.4" y="98.5" class="n">6</text>
<text x="132.6" y="120.9" class="n">22</text>
<text x="176.6" y="114.3" class="n">18</text>
<text x="208.0" y="118.4" class="n">32</text>
<text x="158.7" y="135.8" class="n">69</text>
<text x="192.3" y="145.4" class="n">88</text>
<text x="100.4" y="134.7" class="n">33</text>
<text x="78.5" y="145.5" class="n">14</text>
<text x="111.8" y="154.7" class="n">24</text>
<text x="221.7" y="161.1" class="n">31</text>
<text x="254.8" y="163.0" class="n">49</text>
<text x="187.7" y="169.4" class="n">62</text>
<text x="214.7" y="184.9" class="n">7</text>
<text x="146.0" y="177.6" class="n">416</text>
<text x="87.5" y="173.7" class="n">6</text>
<text x="61.8" y="186.4" class="n">23</text>
<text x="116.2" y="199.7" class="n">3</text>
<text x="85.6" y="206.9" class="n">8</text>
<text x="164.6" y="207.7" class="n">14</text>
<text x="194.0" y="216.3" class="n">5</text>
<text x="222.5" y="221.9" class="n">4</text>
<text x="92.7" y="230.4" class="n">15</text>
<text x="129.9" y="227.1" class="n">4</text>
<text x="163.3" y="235.3" class="n">0</text>
<text x="184.0" y="247.9" class="n">11</text>
<text x="133.5" y="257.5" class="n">5</text>
<text x="189.5" y="276.4" class="n">8</text>
<text x="73.0" y="253.9" class="n">15</text>
<text x="14.3" y="100.5" class="L">t0</text>
<text x="176.2" y="42.9" class="L">UNF10</text>
<text x="278" y="160.8" class="L">UNF20</text>
<text x="201.2" y="305.7" class="L">NPK10</text>
<text x="-0.3" y="277.3" class="L">NPK20</text>
<line x1="390.0" y1="160.35" x2="708.5" y2="160.35" stroke="#111" stroke-width="1.6" stroke-dasharray="6.6 2.4"/>
<line x1="549.25" y1="50.4" x2="549.25" y2="271" stroke="#111" stroke-width="1.6" stroke-dasharray="6.6 2.4"/>
<rect x="390.0" y="49" width="318.5" height="222.3" fill="none" stroke="#111" stroke-width="1.9"/>
<line x1="386" y1="61.50" x2="390.0" y2="61.50" stroke="#111" stroke-width="1.3"/>
<text x="385" y="65.70" class="t" text-anchor="end">0.4</text>
<line x1="386" y1="110.92" x2="390.0" y2="110.92" stroke="#111" stroke-width="1.3"/>
<text x="385" y="115.12" class="t" text-anchor="end">0.2</text>
<line x1="386" y1="160.35" x2="390.0" y2="160.35" stroke="#111" stroke-width="1.3"/>
<text x="385" y="164.55" class="t" text-anchor="end">0.0</text>
<line x1="386" y1="209.78" x2="390.0" y2="209.78" stroke="#111" stroke-width="1.3"/>
<text x="385" y="213.97" class="t" text-anchor="end">-0.2</text>
<line x1="386" y1="259.20" x2="390.0" y2="259.20" stroke="#111" stroke-width="1.3"/>
<text x="385" y="263.40" class="t" text-anchor="end">-0.4</text>
<line x1="390.00" y1="271" x2="390.00" y2="275.2" stroke="#111" stroke-width="1.3"/>
<text x="389.10" y="288.6" class="t" text-anchor="middle">-0.6</text>
<line x1="443.08" y1="271" x2="443.08" y2="275.2" stroke="#111" stroke-width="1.3"/>
<text x="442.18" y="288.6" class="t" text-anchor="middle">-0.4</text>
<line x1="496.17" y1="271" x2="496.17" y2="275.2" stroke="#111" stroke-width="1.3"/>
<text x="495.27" y="288.6" class="t" text-anchor="middle">-0.2</text>
<line x1="549.25" y1="271" x2="549.25" y2="275.2" stroke="#111" stroke-width="1.3"/>
<text x="549.55" y="288.6" class="t" text-anchor="middle">0.0</text>
<line x1="602.33" y1="271" x2="602.33" y2="275.2" stroke="#111" stroke-width="1.3"/>
<text x="602.63" y="288.6" class="t" text-anchor="middle">0.2</text>
<line x1="655.42" y1="271" x2="655.42" y2="275.2" stroke="#111" stroke-width="1.3"/>
<text x="655.72" y="288.6" class="t" text-anchor="middle">0.4</text>
<line x1="708.50" y1="271" x2="708.50" y2="275.2" stroke="#111" stroke-width="1.3"/>
<text x="708.80" y="288.6" class="t" text-anchor="middle">0.6</text>
<path d="M502.3,62.8 L508.8,74.3 L495.8,74.3Z" fill="#fff" stroke="#2a2a2a" stroke-width="1.1" stroke-linejoin="miter"/>
<path d="M525.4,64.4 L532,75.7 L518.8,75.7Z" fill="#fff" stroke="#2a2a2a" stroke-width="1.1" stroke-linejoin="miter"/>
<path d="M513.6,76.2 L520.4,87.5 L507.6,87.5Z" fill="#fff" stroke="#2a2a2a" stroke-width="1.1" stroke-linejoin="miter"/>
<path d="M419,171.7 L425.9,184.2 L412.2,184.2Z" fill="#1a1a1a" stroke="#2a2a2a" stroke-width="0.4" stroke-linejoin="miter"/>
<path d="M448.5,164.2 L455.8,176.8 L441.3,176.8Z" fill="#1a1a1a" stroke="#2a2a2a" stroke-width="0.4" stroke-linejoin="miter"/>
<path d="M461.9,168.2 L469,180.6 L454.9,180.6Z" fill="#1a1a1a" stroke="#2a2a2a" stroke-width="0.4" stroke-linejoin="miter"/>
<circle cx="633.5" cy="129.9" r="7" fill="#1a1a1a"/>
<circle cx="660.6" cy="124.9" r="7" fill="#1a1a1a"/>
<circle cx="671.1" cy="137.9" r="7" fill="#1a1a1a"/>
<rect x="575.7" y="166.79999999999998" width="10.900000000000023" height="11.200000000000006" fill="#fff" stroke="#444" stroke-width="1.1"/>
<rect x="596.8000000000001" y="179.79999999999998" width="10.699999999999978" height="11.000000000000018" fill="#fff" stroke="#444" stroke-width="1.1"/>
<rect x="567.7" y="184.6" width="11.199999999999978" height="10.99999999999999" fill="#fff" stroke="#444" stroke-width="1.1"/>
<rect x="554.1" y="213.8" width="12.399999999999977" height="12.099999999999994" fill="#1a1a1a"/>
<rect x="572.9" y="223.9" width="12.300000000000068" height="11.900000000000006" fill="#1a1a1a"/>
<rect x="553.6" y="239.2" width="12.399999999999977" height="12.600000000000023" fill="#1a1a1a"/>
<text x="632.6" y="62.8" class="s">2D stress = 0.142</text>
<text x="632.6" y="74" class="s">R<tspan dy="-4.3" font-size="6">2</tspan><tspan dy="4.3">= 0.915</tspan></text>
<rect x="716.8" y="49.2" width="67.6" height="81.4" fill="none" stroke="#111" stroke-width="1.8"/>
<circle cx="731.9" cy="58.5" r="7" fill="#1a1a1a"/>
<rect x="726.6" y="68.5" width="10.8" height="11.6" fill="#fff" stroke="#333" stroke-width="1.2"/>
<rect x="726" y="84.4" width="11.3" height="11.3" fill="#1a1a1a"/>
<path d="M732.3,99.3 L738.8,110.3 L725.8,110.3Z" fill="#fff" stroke="#2a2a2a" stroke-width="1.1" stroke-linejoin="miter"/>
<path d="M732,113.7 L739.3,125.7 L724.8,125.7Z" fill="#1a1a1a" stroke="#2a2a2a" stroke-width="0.4" stroke-linejoin="miter"/>
<text x="741" y="63.3" class="g">t0</text>
<text x="741" y="78.2" class="g">UNF10</text>
<text x="741" y="93.4" class="g">UNF20</text>
<text x="741" y="108.8" class="g">NPK10</text>
<text x="741" y="124.5" class="g">NPK20</text>
<text x="502.9" y="310.7" class="ax">NMDS axis 1</text>
<text transform="translate(357.6,205.3) rotate(-90)" x="0" y="0" class="ax">NMDS axis 2</text>
</svg>
</body></html>
